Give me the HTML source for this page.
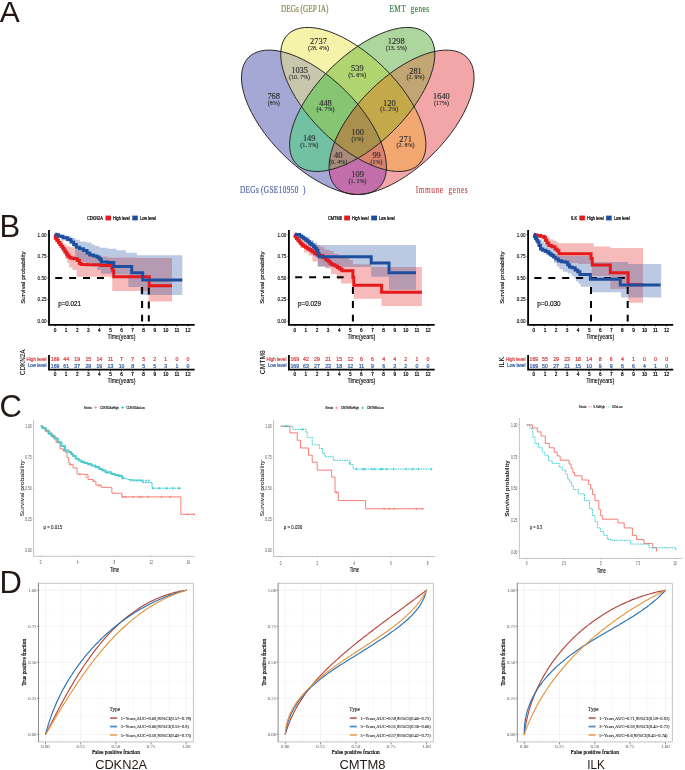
<!DOCTYPE html><html><head><meta charset="utf-8"><title>fig</title><style>html,body{margin:0;padding:0;background:#fff;width:685px;height:770px;overflow:hidden}svg{display:block;will-change:transform}</style></head><body>
<svg width="685" height="770" viewBox="0 0 685 770">
<rect width="685" height="770" fill="#fff"/>
<text x="-0.2" y="21.6" font-size="30" text-anchor="start" fill="#231815" font-family="&quot;Liberation Sans&quot;, sans-serif">A</text>
<text x="-0.6" y="237.1" font-size="31" text-anchor="start" fill="#231815" font-family="&quot;Liberation Sans&quot;, sans-serif">B</text>
<text x="-0.6" y="417" font-size="31" text-anchor="start" fill="#231815" font-family="&quot;Liberation Sans&quot;, sans-serif">C</text>
<text x="-0.6" y="593.3" font-size="31" text-anchor="start" fill="#231815" font-family="&quot;Liberation Sans&quot;, sans-serif">D</text>
<defs>
<clipPath id="cb"><ellipse cx="313.96" cy="122.31" rx="92.14" ry="44.6" transform="rotate(44.82 313.96 122.31)" /></clipPath>
<clipPath id="cr"><ellipse cx="401.56" cy="122.31" rx="92.14" ry="44.6" transform="rotate(-44.82 401.56 122.31)" /></clipPath>
<clipPath id="cy"><ellipse cx="353.3" cy="99.46" rx="92.27" ry="44.19" transform="rotate(44.65 353.3 99.46)" /></clipPath>
<clipPath id="cg"><ellipse cx="362.22" cy="99.46" rx="92.27" ry="44.19" transform="rotate(-44.65 362.22 99.46)" /></clipPath>
</defs>
<ellipse cx="313.96" cy="122.31" rx="92.14" ry="44.6" transform="rotate(44.82 313.96 122.31)" fill="#a5a7d5"/>
<ellipse cx="353.3" cy="99.46" rx="92.27" ry="44.19" transform="rotate(44.65 353.3 99.46)" fill="#f5f3a9"/>
<ellipse cx="362.22" cy="99.46" rx="92.27" ry="44.19" transform="rotate(-44.65 362.22 99.46)" fill="#acd69e"/>
<ellipse cx="401.56" cy="122.31" rx="92.14" ry="44.6" transform="rotate(-44.82 401.56 122.31)" fill="#f2a6a8"/>
<g clip-path="url(#cy)"><ellipse cx="313.96" cy="122.31" rx="92.14" ry="44.6" transform="rotate(44.82 313.96 122.31)" fill="#c8c7ad"/></g>
<g clip-path="url(#cg)"><ellipse cx="313.96" cy="122.31" rx="92.14" ry="44.6" transform="rotate(44.82 313.96 122.31)" fill="#72c1a5"/></g>
<g clip-path="url(#cr)"><ellipse cx="313.96" cy="122.31" rx="92.14" ry="44.6" transform="rotate(44.82 313.96 122.31)" fill="#c16eaa"/></g>
<g clip-path="url(#cg)"><ellipse cx="353.3" cy="99.46" rx="92.27" ry="44.19" transform="rotate(44.65 353.3 99.46)" fill="#b0d470"/></g>
<g clip-path="url(#cr)"><ellipse cx="353.3" cy="99.46" rx="92.27" ry="44.19" transform="rotate(44.65 353.3 99.46)" fill="#f3a872"/></g>
<g clip-path="url(#cr)"><ellipse cx="362.22" cy="99.46" rx="92.27" ry="44.19" transform="rotate(-44.65 362.22 99.46)" fill="#c1a673"/></g>
<g clip-path="url(#cg)"><g clip-path="url(#cy)"><ellipse cx="313.96" cy="122.31" rx="92.14" ry="44.6" transform="rotate(44.82 313.96 122.31)" fill="#86c673"/></g></g>
<g clip-path="url(#cr)"><g clip-path="url(#cy)"><ellipse cx="313.96" cy="122.31" rx="92.14" ry="44.6" transform="rotate(44.82 313.96 122.31)" fill="#d9836f"/></g></g>
<g clip-path="url(#cr)"><g clip-path="url(#cg)"><ellipse cx="313.96" cy="122.31" rx="92.14" ry="44.6" transform="rotate(44.82 313.96 122.31)" fill="#a98c7c"/></g></g>
<g clip-path="url(#cr)"><g clip-path="url(#cg)"><ellipse cx="353.3" cy="99.46" rx="92.27" ry="44.19" transform="rotate(44.65 353.3 99.46)" fill="#c4a94b"/></g></g>
<g clip-path="url(#cr)"><g clip-path="url(#cg)"><g clip-path="url(#cy)"><ellipse cx="313.96" cy="122.31" rx="92.14" ry="44.6" transform="rotate(44.82 313.96 122.31)" fill="#a9904c"/></g></g></g>
<ellipse cx="313.96" cy="122.31" rx="92.14" ry="44.6" transform="rotate(44.82 313.96 122.31)" fill="none" stroke="#222" stroke-width="0.9"/>
<ellipse cx="353.3" cy="99.46" rx="92.27" ry="44.19" transform="rotate(44.65 353.3 99.46)" fill="none" stroke="#222" stroke-width="0.9"/>
<ellipse cx="362.22" cy="99.46" rx="92.27" ry="44.19" transform="rotate(-44.65 362.22 99.46)" fill="none" stroke="#222" stroke-width="0.9"/>
<ellipse cx="401.56" cy="122.31" rx="92.14" ry="44.6" transform="rotate(-44.82 401.56 122.31)" fill="none" stroke="#222" stroke-width="0.9"/>
<text x="273.7" y="99.3" font-size="8.6" text-anchor="middle" fill="#2a2a2a" font-family="&quot;Liberation Serif&quot;, serif" textLength="12.6" lengthAdjust="spacingAndGlyphs" stroke="#2a2a2a" stroke-width="0.14">768</text>
<text x="273.7" y="104.8" font-size="6.2" text-anchor="middle" fill="#2a2a2a" font-family="&quot;Liberation Serif&quot;, serif" textLength="12" lengthAdjust="spacingAndGlyphs" stroke="#2a2a2a" stroke-width="0.12">(8%)</text>
<text x="318.5" y="44" font-size="8.6" text-anchor="middle" fill="#2a2a2a" font-family="&quot;Liberation Serif&quot;, serif" textLength="16.8" lengthAdjust="spacingAndGlyphs" stroke="#2a2a2a" stroke-width="0.14">2737</text>
<text x="318.5" y="49.5" font-size="6.2" text-anchor="middle" fill="#2a2a2a" font-family="&quot;Liberation Serif&quot;, serif" textLength="21" lengthAdjust="spacingAndGlyphs" stroke="#2a2a2a" stroke-width="0.12">(28. 4%)</text>
<text x="396.2" y="44.4" font-size="8.6" text-anchor="middle" fill="#2a2a2a" font-family="&quot;Liberation Serif&quot;, serif" textLength="16.8" lengthAdjust="spacingAndGlyphs" stroke="#2a2a2a" stroke-width="0.14">1298</text>
<text x="396.2" y="49.9" font-size="6.2" text-anchor="middle" fill="#2a2a2a" font-family="&quot;Liberation Serif&quot;, serif" textLength="21" lengthAdjust="spacingAndGlyphs" stroke="#2a2a2a" stroke-width="0.12">(13. 5%)</text>
<text x="441.4" y="99.3" font-size="8.6" text-anchor="middle" fill="#2a2a2a" font-family="&quot;Liberation Serif&quot;, serif" textLength="16.8" lengthAdjust="spacingAndGlyphs" stroke="#2a2a2a" stroke-width="0.14">1640</text>
<text x="441.4" y="104.8" font-size="6.2" text-anchor="middle" fill="#2a2a2a" font-family="&quot;Liberation Serif&quot;, serif" textLength="15" lengthAdjust="spacingAndGlyphs" stroke="#2a2a2a" stroke-width="0.12">(17%)</text>
<text x="299.6" y="73.3" font-size="8.6" text-anchor="middle" fill="#2a2a2a" font-family="&quot;Liberation Serif&quot;, serif" textLength="16.8" lengthAdjust="spacingAndGlyphs" stroke="#2a2a2a" stroke-width="0.14">1035</text>
<text x="299.6" y="78.8" font-size="6.2" text-anchor="middle" fill="#2a2a2a" font-family="&quot;Liberation Serif&quot;, serif" textLength="21" lengthAdjust="spacingAndGlyphs" stroke="#2a2a2a" stroke-width="0.12">(10. 7%)</text>
<text x="357.3" y="71.2" font-size="8.6" text-anchor="middle" fill="#2a2a2a" font-family="&quot;Liberation Serif&quot;, serif" textLength="12.6" lengthAdjust="spacingAndGlyphs" stroke="#2a2a2a" stroke-width="0.14">539</text>
<text x="357.3" y="76.7" font-size="6.2" text-anchor="middle" fill="#2a2a2a" font-family="&quot;Liberation Serif&quot;, serif" textLength="18" lengthAdjust="spacingAndGlyphs" stroke="#2a2a2a" stroke-width="0.12">(5. 6%)</text>
<text x="415.5" y="73.8" font-size="8.6" text-anchor="middle" fill="#2a2a2a" font-family="&quot;Liberation Serif&quot;, serif" textLength="12.6" lengthAdjust="spacingAndGlyphs" stroke="#2a2a2a" stroke-width="0.14">281</text>
<text x="415.5" y="79.3" font-size="6.2" text-anchor="middle" fill="#2a2a2a" font-family="&quot;Liberation Serif&quot;, serif" textLength="18" lengthAdjust="spacingAndGlyphs" stroke="#2a2a2a" stroke-width="0.12">(2. 9%)</text>
<text x="325.5" y="105.7" font-size="8.6" text-anchor="middle" fill="#2a2a2a" font-family="&quot;Liberation Serif&quot;, serif" textLength="12.6" lengthAdjust="spacingAndGlyphs" stroke="#2a2a2a" stroke-width="0.14">448</text>
<text x="325.5" y="111.2" font-size="6.2" text-anchor="middle" fill="#2a2a2a" font-family="&quot;Liberation Serif&quot;, serif" textLength="18" lengthAdjust="spacingAndGlyphs" stroke="#2a2a2a" stroke-width="0.12">(4. 7%)</text>
<text x="389.3" y="105.9" font-size="8.6" text-anchor="middle" fill="#2a2a2a" font-family="&quot;Liberation Serif&quot;, serif" textLength="12.6" lengthAdjust="spacingAndGlyphs" stroke="#2a2a2a" stroke-width="0.14">120</text>
<text x="389.3" y="111.4" font-size="6.2" text-anchor="middle" fill="#2a2a2a" font-family="&quot;Liberation Serif&quot;, serif" textLength="18" lengthAdjust="spacingAndGlyphs" stroke="#2a2a2a" stroke-width="0.12">(1. 2%)</text>
<text x="309.2" y="141.3" font-size="8.6" text-anchor="middle" fill="#2a2a2a" font-family="&quot;Liberation Serif&quot;, serif" textLength="12.6" lengthAdjust="spacingAndGlyphs" stroke="#2a2a2a" stroke-width="0.14">149</text>
<text x="309.2" y="146.8" font-size="6.2" text-anchor="middle" fill="#2a2a2a" font-family="&quot;Liberation Serif&quot;, serif" textLength="18" lengthAdjust="spacingAndGlyphs" stroke="#2a2a2a" stroke-width="0.12">(1. 5%)</text>
<text x="357.6" y="135.1" font-size="8.6" text-anchor="middle" fill="#2a2a2a" font-family="&quot;Liberation Serif&quot;, serif" textLength="12.6" lengthAdjust="spacingAndGlyphs" stroke="#2a2a2a" stroke-width="0.14">100</text>
<text x="357.6" y="140.6" font-size="6.2" text-anchor="middle" fill="#2a2a2a" font-family="&quot;Liberation Serif&quot;, serif" textLength="12" lengthAdjust="spacingAndGlyphs" stroke="#2a2a2a" stroke-width="0.12">(1%)</text>
<text x="405.6" y="141.7" font-size="8.6" text-anchor="middle" fill="#2a2a2a" font-family="&quot;Liberation Serif&quot;, serif" textLength="12.6" lengthAdjust="spacingAndGlyphs" stroke="#2a2a2a" stroke-width="0.14">271</text>
<text x="405.6" y="147.2" font-size="6.2" text-anchor="middle" fill="#2a2a2a" font-family="&quot;Liberation Serif&quot;, serif" textLength="18" lengthAdjust="spacingAndGlyphs" stroke="#2a2a2a" stroke-width="0.12">(2. 8%)</text>
<text x="338.2" y="158.2" font-size="8.6" text-anchor="middle" fill="#2a2a2a" font-family="&quot;Liberation Serif&quot;, serif" textLength="8.4" lengthAdjust="spacingAndGlyphs" stroke="#2a2a2a" stroke-width="0.14">40</text>
<text x="338.2" y="163.7" font-size="6.2" text-anchor="middle" fill="#2a2a2a" font-family="&quot;Liberation Serif&quot;, serif" textLength="18" lengthAdjust="spacingAndGlyphs" stroke="#2a2a2a" stroke-width="0.12">(0. 4%)</text>
<text x="376.6" y="158.2" font-size="8.6" text-anchor="middle" fill="#2a2a2a" font-family="&quot;Liberation Serif&quot;, serif" textLength="8.4" lengthAdjust="spacingAndGlyphs" stroke="#2a2a2a" stroke-width="0.14">99</text>
<text x="376.6" y="163.7" font-size="6.2" text-anchor="middle" fill="#2a2a2a" font-family="&quot;Liberation Serif&quot;, serif" textLength="12" lengthAdjust="spacingAndGlyphs" stroke="#2a2a2a" stroke-width="0.12">(1%)</text>
<text x="357.6" y="177" font-size="8.6" text-anchor="middle" fill="#2a2a2a" font-family="&quot;Liberation Serif&quot;, serif" textLength="12.6" lengthAdjust="spacingAndGlyphs" stroke="#2a2a2a" stroke-width="0.14">109</text>
<text x="357.6" y="182.5" font-size="6.2" text-anchor="middle" fill="#2a2a2a" font-family="&quot;Liberation Serif&quot;, serif" textLength="18" lengthAdjust="spacingAndGlyphs" stroke="#2a2a2a" stroke-width="0.12">(1. 1%)</text>
<text transform="translate(304.8 12.3) scale(0.78 1)" x="0" y="0" font-size="9.3" text-anchor="middle" fill="#8c8a4f" stroke="#8c8a4f" stroke-width="0.22" font-family="&quot;Liberation Serif&quot;, serif" textLength="60.9" lengthAdjust="spacing">DEGs&#8201;(GEP&#8201;IA)</text>
<text transform="translate(409.2 12.3) scale(0.78 1)" x="0" y="0" font-size="9.3" text-anchor="middle" fill="#3b8a4c" stroke="#3b8a4c" stroke-width="0.22" font-family="&quot;Liberation Serif&quot;, serif" textLength="50.77" lengthAdjust="spacing">EMT&#160;&#160;genes</text>
<text transform="translate(272.7 193.1) scale(0.78 1)" x="0" y="0" font-size="9.3" text-anchor="middle" fill="#5464a8" stroke="#5464a8" stroke-width="0.2" font-family="&quot;Liberation Serif&quot;, serif" textLength="84.1" lengthAdjust="spacing">DEGs&#8201;(GSE10950&#160;&#160;)</text>
<text transform="translate(441.7 193.2) scale(0.78 1)" x="0" y="0" font-size="9.3" text-anchor="middle" fill="#d04a4a" stroke="#d04a4a" stroke-width="0.15" font-family="&quot;Liberation Serif&quot;, serif" textLength="66.54" lengthAdjust="spacing">Immune&#160;&#160;genes</text>
<polygon points="54.7,234.8 56.35,234.8 56.35,237 58,237 59.85,237 59.85,240.5 61.7,240.5 63.15,240.5 63.15,244 64.6,244 66.3,244 66.3,246.5 68,246.5 70.7,246.5 70.7,247.3 73.4,247.3 74.4,247.3 74.4,249.2 75.4,249.2 77.7,249.2 77.7,251 80,251 82,251 82,252.2 84,252.2 86.35,252.2 86.35,253.3 88.7,253.3 91.85,253.3 91.85,255 95,255 98,255 98,256.4 101,256.4 107.1,256.4 107.1,257.4 113.2,257.4 125,257.4 136.8,257.4 136.8,257.9 148.6,257.9 172,257.9 172,301.4 148.6,301.4 148.6,291.1 125,291.1 113.2,291.1 112.2,291.1 112.2,276.8 111.2,276.8 78.5,276.8 76.75,276.8 76.75,270 75,270 72.5,270 72.5,267.6 70,267.6 69.15,267.6 69.15,263 68.3,263 67.15,263 67.15,259 66,259 65,259 65,254 64,254 63,254 63,249.5 62,249.5 61,249.5 61,245.5 60,245.5 59,245.5 59,241.5 58,241.5 57,241.5 57,238 56,238 55.35,238 55.35,234.8 54.7,234.8" fill="#e41a1c" fill-opacity="0.3" stroke="none"/>
<polygon points="55,234 57.5,234 57.5,234.8 60,234.8 62.3,234.8 62.3,235.6 64.6,235.6 66.95,235.6 66.95,236.2 69.3,236.2 71.35,236.2 71.35,237.9 73.4,237.9 75.4,237.9 75.4,239.7 77.4,239.7 80.05,239.7 80.05,241.4 82.7,241.4 86.35,241.4 86.35,242.6 90,242.6 91.5,242.6 91.5,244.5 93,244.5 94.95,244.5 94.95,246.1 96.9,246.1 99.45,246.1 99.45,247.7 102,247.7 107.6,247.7 107.6,248.7 113.2,248.7 116.6,248.7 116.6,250.2 120,250.2 125.85,250.2 125.85,252.7 131.7,252.7 136.85,252.7 136.85,255.3 142,255.3 182.3,255.3 182.3,294.9 148.6,294.9 140.15,294.9 140.15,287 131.7,287 128.35,287 128.35,274.5 125,274.5 113.5,274.5 113.5,273.7 102,273.7 101,273.7 101,270 100,270 97,270 97,266.5 94,266.5 91.35,266.5 91.35,263.5 88.7,263.5 85.85,263.5 85.85,262 83,262 80.75,262 80.75,260.4 78.5,260.4 76.95,260.4 76.95,258 75.4,258 75.2,258 75.2,247.5 75,247.5 73.5,247.5 73.5,243.5 72,243.5 70,243.5 70,241.2 68,241.2 66.3,241.2 66.3,240.5 64.6,240.5 62.8,240.5 62.8,238 61,238 59.5,238 59.5,236 58,236 56.5,236 56.5,234 55,234" fill="#1f4e9e" fill-opacity="0.3" stroke="none"/>
<polyline points="55.25,277.9 111,277.9" fill="none" stroke="#000" stroke-width="2" stroke-dasharray="7,6.9"/>
<polyline points="142.1,287 142.1,321.5" fill="none" stroke="#000" stroke-width="2" stroke-dasharray="7,6.9"/>
<polyline points="148.8,287.5 148.8,321.5" fill="none" stroke="#000" stroke-width="2" stroke-dasharray="7,6.9"/>
<polyline points="54.7,234.8 55.35,234.8 55.35,238.3 56,238.3 56.8,238.3 56.8,240.4 57.6,240.4 58.4,240.4 58.4,242.5 59.2,242.5 59.85,242.5 59.85,244.4 60.5,244.4 61.15,244.4 61.15,246.2 61.8,246.2 62.5,246.2 62.5,248 63.2,248 63.85,248 63.85,249.9 64.5,249.9 65.15,249.9 65.15,252 65.8,252 66.45,252 66.45,254.1 67.1,254.1 67.75,254.1 67.75,255.7 68.4,255.7 69.05,255.7 69.05,257.2 69.7,257.2 71,257.2 71,258.3 72.3,258.3 74.15,258.3 74.15,258.8 76,258.8 77.3,258.8 77.3,260.4 78.6,260.4 79.4,260.4 79.4,263.5 80.2,263.5 81.25,263.5 81.25,264.6 82.3,264.6 86.65,264.6 86.65,264.8 91,264.8 101.1,264.8 101.1,265.5 111.2,265.5 111.7,265.5 111.7,268 112.2,268 112.7,268 112.7,270.7 113.2,270.7 113.75,270.7 113.75,276.8 114.3,276.8 149.2,276.8 149.2,285.8 172,285.8" fill="none" stroke="#e41a1c" stroke-width="3" stroke-linejoin="miter"/>
<polyline points="55.2,234.2 56.1,234.2 56.1,234.8 57,234.8 58.65,234.8 58.65,236.2 60.3,236.2 62.9,236.2 62.9,237.8 65.5,237.8 67.6,237.8 67.6,239.4 69.7,239.4 71,239.4 71,242 72.3,242 73.65,242 73.65,244.6 75,244.6 76.3,244.6 76.3,247.2 77.6,247.2 79.45,247.2 79.45,248.8 81.3,248.8 83.4,248.8 83.4,250.4 85.5,250.4 87.05,250.4 87.05,253 88.6,253 89.8,253 89.8,255.1 91,255.1 93.45,255.1 93.45,255.9 95.9,255.9 96.95,255.9 96.95,257 98,257 99,257 99,258.4 100,258.4 100.5,258.4 100.5,260 101,260 101.5,260 101.5,262 102,262 107.6,262 107.6,262.5 113.2,262.5 113.75,262.5 113.75,266.4 114.3,266.4 131.7,266.4 131.7,272.8 142.7,272.8 142.7,280 182.3,280" fill="none" stroke="#1f4e9e" stroke-width="3" stroke-linejoin="miter"/>
<path d="M49,230.1V324.8H194.58" fill="none" stroke="#000" stroke-width="1.8"/>
<path d="M47.4,321.2H48.7" stroke="#000" stroke-width="0.5"/>
<text x="46.5" y="322.9" font-size="4.9" text-anchor="end" fill="#000" font-family="&quot;Liberation Sans&quot;, sans-serif" textLength="8.9" lengthAdjust="spacingAndGlyphs" stroke="#000" stroke-width="0.1">0.00</text>
<path d="M47.4,299.6H48.7" stroke="#000" stroke-width="0.5"/>
<text x="46.5" y="301.3" font-size="4.9" text-anchor="end" fill="#000" font-family="&quot;Liberation Sans&quot;, sans-serif" textLength="8.9" lengthAdjust="spacingAndGlyphs" stroke="#000" stroke-width="0.1">0.25</text>
<path d="M47.4,278H48.7" stroke="#000" stroke-width="0.5"/>
<text x="46.5" y="279.7" font-size="4.9" text-anchor="end" fill="#000" font-family="&quot;Liberation Sans&quot;, sans-serif" textLength="8.9" lengthAdjust="spacingAndGlyphs" stroke="#000" stroke-width="0.1">0.50</text>
<path d="M47.4,256.4H48.7" stroke="#000" stroke-width="0.5"/>
<text x="46.5" y="258.1" font-size="4.9" text-anchor="end" fill="#000" font-family="&quot;Liberation Sans&quot;, sans-serif" textLength="8.9" lengthAdjust="spacingAndGlyphs" stroke="#000" stroke-width="0.1">0.75</text>
<path d="M47.4,234.8H48.7" stroke="#000" stroke-width="0.5"/>
<text x="46.5" y="236.5" font-size="4.9" text-anchor="end" fill="#000" font-family="&quot;Liberation Sans&quot;, sans-serif" textLength="8.9" lengthAdjust="spacingAndGlyphs" stroke="#000" stroke-width="0.1">1.00</text>
<path d="M55.1,324.8V326.5" stroke="#000" stroke-width="0.7"/>
<text x="55.1" y="331.9" font-size="4.7" text-anchor="middle" fill="#000" font-family="&quot;Liberation Sans&quot;, sans-serif" stroke="#000" stroke-width="0.2">0</text>
<path d="M55.1,369.7V371.4" stroke="#000" stroke-width="0.7"/>
<text x="55.1" y="376" font-size="4.7" text-anchor="middle" fill="#000" font-family="&quot;Liberation Sans&quot;, sans-serif" stroke="#000" stroke-width="0.2">0</text>
<path d="M66.17,324.8V326.5" stroke="#000" stroke-width="0.7"/>
<text x="66.17" y="331.9" font-size="4.7" text-anchor="middle" fill="#000" font-family="&quot;Liberation Sans&quot;, sans-serif" stroke="#000" stroke-width="0.2">1</text>
<path d="M66.17,369.7V371.4" stroke="#000" stroke-width="0.7"/>
<text x="66.17" y="376" font-size="4.7" text-anchor="middle" fill="#000" font-family="&quot;Liberation Sans&quot;, sans-serif" stroke="#000" stroke-width="0.2">1</text>
<path d="M77.24,324.8V326.5" stroke="#000" stroke-width="0.7"/>
<text x="77.24" y="331.9" font-size="4.7" text-anchor="middle" fill="#000" font-family="&quot;Liberation Sans&quot;, sans-serif" stroke="#000" stroke-width="0.2">2</text>
<path d="M77.24,369.7V371.4" stroke="#000" stroke-width="0.7"/>
<text x="77.24" y="376" font-size="4.7" text-anchor="middle" fill="#000" font-family="&quot;Liberation Sans&quot;, sans-serif" stroke="#000" stroke-width="0.2">2</text>
<path d="M88.31,324.8V326.5" stroke="#000" stroke-width="0.7"/>
<text x="88.31" y="331.9" font-size="4.7" text-anchor="middle" fill="#000" font-family="&quot;Liberation Sans&quot;, sans-serif" stroke="#000" stroke-width="0.2">3</text>
<path d="M88.31,369.7V371.4" stroke="#000" stroke-width="0.7"/>
<text x="88.31" y="376" font-size="4.7" text-anchor="middle" fill="#000" font-family="&quot;Liberation Sans&quot;, sans-serif" stroke="#000" stroke-width="0.2">3</text>
<path d="M99.38,324.8V326.5" stroke="#000" stroke-width="0.7"/>
<text x="99.38" y="331.9" font-size="4.7" text-anchor="middle" fill="#000" font-family="&quot;Liberation Sans&quot;, sans-serif" stroke="#000" stroke-width="0.2">4</text>
<path d="M99.38,369.7V371.4" stroke="#000" stroke-width="0.7"/>
<text x="99.38" y="376" font-size="4.7" text-anchor="middle" fill="#000" font-family="&quot;Liberation Sans&quot;, sans-serif" stroke="#000" stroke-width="0.2">4</text>
<path d="M110.45,324.8V326.5" stroke="#000" stroke-width="0.7"/>
<text x="110.45" y="331.9" font-size="4.7" text-anchor="middle" fill="#000" font-family="&quot;Liberation Sans&quot;, sans-serif" stroke="#000" stroke-width="0.2">5</text>
<path d="M110.45,369.7V371.4" stroke="#000" stroke-width="0.7"/>
<text x="110.45" y="376" font-size="4.7" text-anchor="middle" fill="#000" font-family="&quot;Liberation Sans&quot;, sans-serif" stroke="#000" stroke-width="0.2">5</text>
<path d="M121.52,324.8V326.5" stroke="#000" stroke-width="0.7"/>
<text x="121.52" y="331.9" font-size="4.7" text-anchor="middle" fill="#000" font-family="&quot;Liberation Sans&quot;, sans-serif" stroke="#000" stroke-width="0.2">6</text>
<path d="M121.52,369.7V371.4" stroke="#000" stroke-width="0.7"/>
<text x="121.52" y="376" font-size="4.7" text-anchor="middle" fill="#000" font-family="&quot;Liberation Sans&quot;, sans-serif" stroke="#000" stroke-width="0.2">6</text>
<path d="M132.59,324.8V326.5" stroke="#000" stroke-width="0.7"/>
<text x="132.59" y="331.9" font-size="4.7" text-anchor="middle" fill="#000" font-family="&quot;Liberation Sans&quot;, sans-serif" stroke="#000" stroke-width="0.2">7</text>
<path d="M132.59,369.7V371.4" stroke="#000" stroke-width="0.7"/>
<text x="132.59" y="376" font-size="4.7" text-anchor="middle" fill="#000" font-family="&quot;Liberation Sans&quot;, sans-serif" stroke="#000" stroke-width="0.2">7</text>
<path d="M143.66,324.8V326.5" stroke="#000" stroke-width="0.7"/>
<text x="143.66" y="331.9" font-size="4.7" text-anchor="middle" fill="#000" font-family="&quot;Liberation Sans&quot;, sans-serif" stroke="#000" stroke-width="0.2">8</text>
<path d="M143.66,369.7V371.4" stroke="#000" stroke-width="0.7"/>
<text x="143.66" y="376" font-size="4.7" text-anchor="middle" fill="#000" font-family="&quot;Liberation Sans&quot;, sans-serif" stroke="#000" stroke-width="0.2">8</text>
<path d="M154.73,324.8V326.5" stroke="#000" stroke-width="0.7"/>
<text x="154.73" y="331.9" font-size="4.7" text-anchor="middle" fill="#000" font-family="&quot;Liberation Sans&quot;, sans-serif" stroke="#000" stroke-width="0.2">9</text>
<path d="M154.73,369.7V371.4" stroke="#000" stroke-width="0.7"/>
<text x="154.73" y="376" font-size="4.7" text-anchor="middle" fill="#000" font-family="&quot;Liberation Sans&quot;, sans-serif" stroke="#000" stroke-width="0.2">9</text>
<path d="M165.8,324.8V326.5" stroke="#000" stroke-width="0.7"/>
<text x="165.8" y="331.9" font-size="4.7" text-anchor="middle" fill="#000" font-family="&quot;Liberation Sans&quot;, sans-serif" stroke="#000" stroke-width="0.2">10</text>
<path d="M165.8,369.7V371.4" stroke="#000" stroke-width="0.7"/>
<text x="165.8" y="376" font-size="4.7" text-anchor="middle" fill="#000" font-family="&quot;Liberation Sans&quot;, sans-serif" stroke="#000" stroke-width="0.2">10</text>
<path d="M176.87,324.8V326.5" stroke="#000" stroke-width="0.7"/>
<text x="176.87" y="331.9" font-size="4.7" text-anchor="middle" fill="#000" font-family="&quot;Liberation Sans&quot;, sans-serif" stroke="#000" stroke-width="0.2">11</text>
<path d="M176.87,369.7V371.4" stroke="#000" stroke-width="0.7"/>
<text x="176.87" y="376" font-size="4.7" text-anchor="middle" fill="#000" font-family="&quot;Liberation Sans&quot;, sans-serif" stroke="#000" stroke-width="0.2">11</text>
<path d="M187.94,324.8V326.5" stroke="#000" stroke-width="0.7"/>
<text x="187.94" y="331.9" font-size="4.7" text-anchor="middle" fill="#000" font-family="&quot;Liberation Sans&quot;, sans-serif" stroke="#000" stroke-width="0.2">12</text>
<path d="M187.94,369.7V371.4" stroke="#000" stroke-width="0.7"/>
<text x="187.94" y="376" font-size="4.7" text-anchor="middle" fill="#000" font-family="&quot;Liberation Sans&quot;, sans-serif" stroke="#000" stroke-width="0.2">12</text>
<text x="121.52" y="338.7" font-size="6.6" text-anchor="middle" fill="#000" font-family="&quot;Liberation Sans&quot;, sans-serif" textLength="28" lengthAdjust="spacingAndGlyphs" stroke="#000" stroke-width="0.1">Time(years)</text>
<text x="121.52" y="382.6" font-size="6.6" text-anchor="middle" fill="#000" font-family="&quot;Liberation Sans&quot;, sans-serif" textLength="28" lengthAdjust="spacingAndGlyphs" stroke="#000" stroke-width="0.1">Time(years)</text>
<text x="24.6" y="277.6" font-size="6.2" text-anchor="middle" fill="#000" font-family="&quot;Liberation Sans&quot;, sans-serif" textLength="52.5" lengthAdjust="spacingAndGlyphs" transform="rotate(-90 24.6 277.6)" stroke="#000" stroke-width="0.12">Survival probability</text>
<text x="58.2" y="305.8" font-size="7.2" text-anchor="start" fill="#000" font-family="&quot;Liberation Sans&quot;, sans-serif" textLength="22.8" lengthAdjust="spacingAndGlyphs" stroke="#000" stroke-width="0.16">p=0.021</text>
<text x="87" y="220.1" font-size="4.6" text-anchor="start" fill="#000" font-family="&quot;Liberation Sans&quot;, sans-serif" textLength="15.8" lengthAdjust="spacingAndGlyphs" stroke="#000" stroke-width="0.2">CDKN2A</text>
<rect x="105.5" y="215.6" width="5.5" height="4.8" fill="#e41a1c"/>
<text x="113" y="220.1" font-size="4.6" text-anchor="start" fill="#000" font-family="&quot;Liberation Sans&quot;, sans-serif" textLength="16.6" lengthAdjust="spacingAndGlyphs" stroke="#000" stroke-width="0.2">High level</text>
<rect x="132.3" y="215.6" width="5.5" height="4.8" fill="#1f4e9e"/>
<text x="140.1" y="220.1" font-size="4.6" text-anchor="start" fill="#000" font-family="&quot;Liberation Sans&quot;, sans-serif" textLength="15.8" lengthAdjust="spacingAndGlyphs" stroke="#000" stroke-width="0.2">Low level</text>
<path d="M49,355V369.7H194.58" fill="none" stroke="#000" stroke-width="1.8"/>
<text x="46.5" y="360.5" font-size="5.4" text-anchor="end" fill="#d93a3a" font-family="&quot;Liberation Sans&quot;, sans-serif" textLength="19.9" lengthAdjust="spacingAndGlyphs" stroke="#d93a3a" stroke-width="0.2">High level</text>
<text x="46.5" y="367.2" font-size="5.4" text-anchor="end" fill="#2f58a3" font-family="&quot;Liberation Sans&quot;, sans-serif" textLength="18.6" lengthAdjust="spacingAndGlyphs" stroke="#2f58a3" stroke-width="0.2">Low level</text>
<text x="55.1" y="360.9" font-size="5.2" text-anchor="middle" fill="#d93a3a" font-family="&quot;Liberation Sans&quot;, sans-serif" stroke="#d93a3a" stroke-width="0.2">169</text>
<text x="55.1" y="367.5" font-size="5.2" text-anchor="middle" fill="#2f58a3" font-family="&quot;Liberation Sans&quot;, sans-serif" stroke="#2f58a3" stroke-width="0.2">169</text>
<text x="66.17" y="360.9" font-size="5.2" text-anchor="middle" fill="#d93a3a" font-family="&quot;Liberation Sans&quot;, sans-serif" stroke="#d93a3a" stroke-width="0.2">44</text>
<text x="66.17" y="367.5" font-size="5.2" text-anchor="middle" fill="#2f58a3" font-family="&quot;Liberation Sans&quot;, sans-serif" stroke="#2f58a3" stroke-width="0.2">61</text>
<text x="77.24" y="360.9" font-size="5.2" text-anchor="middle" fill="#d93a3a" font-family="&quot;Liberation Sans&quot;, sans-serif" stroke="#d93a3a" stroke-width="0.2">19</text>
<text x="77.24" y="367.5" font-size="5.2" text-anchor="middle" fill="#2f58a3" font-family="&quot;Liberation Sans&quot;, sans-serif" stroke="#2f58a3" stroke-width="0.2">37</text>
<text x="88.31" y="360.9" font-size="5.2" text-anchor="middle" fill="#d93a3a" font-family="&quot;Liberation Sans&quot;, sans-serif" stroke="#d93a3a" stroke-width="0.2">15</text>
<text x="88.31" y="367.5" font-size="5.2" text-anchor="middle" fill="#2f58a3" font-family="&quot;Liberation Sans&quot;, sans-serif" stroke="#2f58a3" stroke-width="0.2">29</text>
<text x="99.38" y="360.9" font-size="5.2" text-anchor="middle" fill="#d93a3a" font-family="&quot;Liberation Sans&quot;, sans-serif" stroke="#d93a3a" stroke-width="0.2">14</text>
<text x="99.38" y="367.5" font-size="5.2" text-anchor="middle" fill="#2f58a3" font-family="&quot;Liberation Sans&quot;, sans-serif" stroke="#2f58a3" stroke-width="0.2">19</text>
<text x="110.45" y="360.9" font-size="5.2" text-anchor="middle" fill="#d93a3a" font-family="&quot;Liberation Sans&quot;, sans-serif" stroke="#d93a3a" stroke-width="0.2">11</text>
<text x="110.45" y="367.5" font-size="5.2" text-anchor="middle" fill="#2f58a3" font-family="&quot;Liberation Sans&quot;, sans-serif" stroke="#2f58a3" stroke-width="0.2">13</text>
<text x="121.52" y="360.9" font-size="5.2" text-anchor="middle" fill="#d93a3a" font-family="&quot;Liberation Sans&quot;, sans-serif" stroke="#d93a3a" stroke-width="0.2">7</text>
<text x="121.52" y="367.5" font-size="5.2" text-anchor="middle" fill="#2f58a3" font-family="&quot;Liberation Sans&quot;, sans-serif" stroke="#2f58a3" stroke-width="0.2">10</text>
<text x="132.59" y="360.9" font-size="5.2" text-anchor="middle" fill="#d93a3a" font-family="&quot;Liberation Sans&quot;, sans-serif" stroke="#d93a3a" stroke-width="0.2">7</text>
<text x="132.59" y="367.5" font-size="5.2" text-anchor="middle" fill="#2f58a3" font-family="&quot;Liberation Sans&quot;, sans-serif" stroke="#2f58a3" stroke-width="0.2">8</text>
<text x="143.66" y="360.9" font-size="5.2" text-anchor="middle" fill="#d93a3a" font-family="&quot;Liberation Sans&quot;, sans-serif" stroke="#d93a3a" stroke-width="0.2">5</text>
<text x="143.66" y="367.5" font-size="5.2" text-anchor="middle" fill="#2f58a3" font-family="&quot;Liberation Sans&quot;, sans-serif" stroke="#2f58a3" stroke-width="0.2">5</text>
<text x="154.73" y="360.9" font-size="5.2" text-anchor="middle" fill="#d93a3a" font-family="&quot;Liberation Sans&quot;, sans-serif" stroke="#d93a3a" stroke-width="0.2">2</text>
<text x="154.73" y="367.5" font-size="5.2" text-anchor="middle" fill="#2f58a3" font-family="&quot;Liberation Sans&quot;, sans-serif" stroke="#2f58a3" stroke-width="0.2">5</text>
<text x="165.8" y="360.9" font-size="5.2" text-anchor="middle" fill="#d93a3a" font-family="&quot;Liberation Sans&quot;, sans-serif" stroke="#d93a3a" stroke-width="0.2">1</text>
<text x="165.8" y="367.5" font-size="5.2" text-anchor="middle" fill="#2f58a3" font-family="&quot;Liberation Sans&quot;, sans-serif" stroke="#2f58a3" stroke-width="0.2">3</text>
<text x="176.87" y="360.9" font-size="5.2" text-anchor="middle" fill="#d93a3a" font-family="&quot;Liberation Sans&quot;, sans-serif" stroke="#d93a3a" stroke-width="0.2">0</text>
<text x="176.87" y="367.5" font-size="5.2" text-anchor="middle" fill="#2f58a3" font-family="&quot;Liberation Sans&quot;, sans-serif" stroke="#2f58a3" stroke-width="0.2">1</text>
<text x="187.94" y="360.9" font-size="5.2" text-anchor="middle" fill="#d93a3a" font-family="&quot;Liberation Sans&quot;, sans-serif" stroke="#d93a3a" stroke-width="0.2">0</text>
<text x="187.94" y="367.5" font-size="5.2" text-anchor="middle" fill="#2f58a3" font-family="&quot;Liberation Sans&quot;, sans-serif" stroke="#2f58a3" stroke-width="0.2">0</text>
<text x="24.7" y="362.2" font-size="7.0" text-anchor="middle" fill="#000" font-family="&quot;Liberation Sans&quot;, sans-serif" textLength="25.5" lengthAdjust="spacingAndGlyphs" transform="rotate(-90 24.7 362.2)" stroke="#000" stroke-width="0.04">CDKN2A</text>
<polygon points="294.4,234.8 296.2,234.8 296.2,236.5 298,236.5 300,236.5 300,239 302,239 304,239 304,241.5 306,241.5 308,241.5 308,243.5 310,243.5 312,243.5 312,244.5 314,244.5 316.4,244.5 316.4,245 318.8,245 320.1,245 320.1,246.8 321.4,246.8 324.45,246.8 324.45,249.4 327.5,249.4 329.25,249.4 329.25,251.1 331,251.1 333.65,251.1 333.65,253.8 336.3,253.8 338.45,253.8 338.45,256 340.6,256 343.3,256 343.3,258 346,258 349,258 349,259.9 352,259.9 352.9,259.9 352.9,264.3 353.8,264.3 371.2,264.3 371.2,267 421.9,267 421.9,305.9 381.6,305.9 381.6,298.8 353.8,298.8 353.8,283.5 341.5,283.5 341.05,283.5 341.05,279.2 340.6,279.2 336.7,279.2 336.7,273.9 332.8,273.9 331.05,273.9 331.05,268.6 329.3,268.6 325.15,268.6 325.15,266 321,266 317.7,266 317.7,261.6 314.4,261.6 312.4,261.6 312.4,255.4 310.4,255.4 308.4,255.4 308.4,252.5 306.4,252.5 304.05,252.5 304.05,247.9 301.7,247.9 300.35,247.9 300.35,242 299,242 298,242 298,238 297,238 295.7,238 295.7,234.8 294.4,234.8" fill="#e41a1c" fill-opacity="0.3" stroke="none"/>
<polygon points="295,234.2 296.5,234.2 296.5,234.8 298,234.8 299.85,234.8 299.85,235.6 301.7,235.6 304.6,235.6 304.6,237.3 307.5,237.3 309.85,237.3 309.85,240.3 312.2,240.3 313.95,240.3 313.95,242.6 315.7,242.6 317.25,242.6 317.25,245 318.8,245 416,245 416,289.7 389,289.7 389,276.7 371.2,276.7 371.2,267 318.8,267 317.9,267 317.9,254 317,254 315.5,254 315.5,250 314,250 312,250 312,246 310,246 308,246 308,242 306,242 304,242 304,239 302,239 300,239 300,236 298,236 296.5,236 296.5,234.2 295,234.2" fill="#1f4e9e" fill-opacity="0.3" stroke="none"/>
<polyline points="295.2,277.3 343.7,277.3" fill="none" stroke="#000" stroke-width="2" stroke-dasharray="7,6.9"/>
<polyline points="352.9,287 352.9,321.5" fill="none" stroke="#000" stroke-width="2" stroke-dasharray="7,6.9"/>
<polyline points="294.4,234.8 295.05,234.8 295.05,236.6 295.7,236.6 296.35,236.6 296.35,238.5 297,238.5 297.75,238.5 297.75,240.2 298.5,240.2 299.2,240.2 299.2,242 299.9,242 300.6,242 300.6,243.5 301.3,243.5 302.05,243.5 302.05,245 302.8,245 303.7,245 303.7,246.2 304.6,246.2 305.5,246.2 305.5,247.3 306.4,247.3 307.25,247.3 307.25,248.5 308.1,248.5 309,248.5 309,249.6 309.9,249.6 310.75,249.6 310.75,250.8 311.6,250.8 312.5,250.8 312.5,252 313.4,252 314.55,252 314.55,253.7 315.7,253.7 316.85,253.7 316.85,254.9 318,254.9 319.7,254.9 319.7,255.5 321.4,255.5 322.95,255.5 322.95,257.7 324.5,257.7 326,257.7 326,259.9 327.5,259.9 328.35,259.9 328.35,261.6 329.2,261.6 330.1,261.6 330.1,263.4 331,263.4 332.25,263.4 332.25,264.7 333.5,264.7 334.9,264.7 334.9,266 336.3,266 337.4,266 337.4,267.5 338.5,267.5 339.55,267.5 339.55,269.1 340.6,269.1 341.95,269.1 341.95,270.8 343.3,270.8 352,270.8 352.9,270.8 352.9,277.4 353.8,277.4 353.8,285.3 381.6,285.3 381.6,292.3 421.9,292.3" fill="none" stroke="#e41a1c" stroke-width="3" stroke-linejoin="miter"/>
<polyline points="295,234.2 295.95,234.2 295.95,234.4 296.9,234.4 297.85,234.4 297.85,234.6 298.8,234.6 299.8,234.6 299.8,236 300.8,236 301.8,236 301.8,237.3 302.8,237.3 303.8,237.3 303.8,238.8 304.8,238.8 305.85,238.8 305.85,240.3 306.9,240.3 307.75,240.3 307.75,241.7 308.6,241.7 309.5,241.7 309.5,243.2 310.4,243.2 311.4,243.2 311.4,245 312.4,245 313.45,245 313.45,246.7 314.5,246.7 315.25,246.7 315.25,248.5 316,248.5 316.7,248.5 316.7,250.2 317.4,250.2 318,250.2 318,253.7 318.6,253.7 319.05,253.7 319.05,256.8 319.5,256.8 371.2,256.8 371.2,263.1 389,263.1 389,272.8 416,272.8" fill="none" stroke="#1f4e9e" stroke-width="3" stroke-linejoin="miter"/>
<path d="M288.9,230.1V324.8H434.66" fill="none" stroke="#000" stroke-width="1.8"/>
<path d="M287.3,321.2H288.6" stroke="#000" stroke-width="0.5"/>
<text x="286.4" y="322.9" font-size="4.9" text-anchor="end" fill="#000" font-family="&quot;Liberation Sans&quot;, sans-serif" textLength="8.9" lengthAdjust="spacingAndGlyphs" stroke="#000" stroke-width="0.1">0.00</text>
<path d="M287.3,299.6H288.6" stroke="#000" stroke-width="0.5"/>
<text x="286.4" y="301.3" font-size="4.9" text-anchor="end" fill="#000" font-family="&quot;Liberation Sans&quot;, sans-serif" textLength="8.9" lengthAdjust="spacingAndGlyphs" stroke="#000" stroke-width="0.1">0.25</text>
<path d="M287.3,278H288.6" stroke="#000" stroke-width="0.5"/>
<text x="286.4" y="279.7" font-size="4.9" text-anchor="end" fill="#000" font-family="&quot;Liberation Sans&quot;, sans-serif" textLength="8.9" lengthAdjust="spacingAndGlyphs" stroke="#000" stroke-width="0.1">0.50</text>
<path d="M287.3,256.4H288.6" stroke="#000" stroke-width="0.5"/>
<text x="286.4" y="258.1" font-size="4.9" text-anchor="end" fill="#000" font-family="&quot;Liberation Sans&quot;, sans-serif" textLength="8.9" lengthAdjust="spacingAndGlyphs" stroke="#000" stroke-width="0.1">0.75</text>
<path d="M287.3,234.8H288.6" stroke="#000" stroke-width="0.5"/>
<text x="286.4" y="236.5" font-size="4.9" text-anchor="end" fill="#000" font-family="&quot;Liberation Sans&quot;, sans-serif" textLength="8.9" lengthAdjust="spacingAndGlyphs" stroke="#000" stroke-width="0.1">1.00</text>
<path d="M294.8,324.8V326.5" stroke="#000" stroke-width="0.7"/>
<text x="294.8" y="331.9" font-size="4.7" text-anchor="middle" fill="#000" font-family="&quot;Liberation Sans&quot;, sans-serif" stroke="#000" stroke-width="0.2">0</text>
<path d="M294.8,369.7V371.4" stroke="#000" stroke-width="0.7"/>
<text x="294.8" y="376" font-size="4.7" text-anchor="middle" fill="#000" font-family="&quot;Liberation Sans&quot;, sans-serif" stroke="#000" stroke-width="0.2">0</text>
<path d="M305.9,324.8V326.5" stroke="#000" stroke-width="0.7"/>
<text x="305.9" y="331.9" font-size="4.7" text-anchor="middle" fill="#000" font-family="&quot;Liberation Sans&quot;, sans-serif" stroke="#000" stroke-width="0.2">1</text>
<path d="M305.9,369.7V371.4" stroke="#000" stroke-width="0.7"/>
<text x="305.9" y="376" font-size="4.7" text-anchor="middle" fill="#000" font-family="&quot;Liberation Sans&quot;, sans-serif" stroke="#000" stroke-width="0.2">1</text>
<path d="M317,324.8V326.5" stroke="#000" stroke-width="0.7"/>
<text x="317" y="331.9" font-size="4.7" text-anchor="middle" fill="#000" font-family="&quot;Liberation Sans&quot;, sans-serif" stroke="#000" stroke-width="0.2">2</text>
<path d="M317,369.7V371.4" stroke="#000" stroke-width="0.7"/>
<text x="317" y="376" font-size="4.7" text-anchor="middle" fill="#000" font-family="&quot;Liberation Sans&quot;, sans-serif" stroke="#000" stroke-width="0.2">2</text>
<path d="M328.1,324.8V326.5" stroke="#000" stroke-width="0.7"/>
<text x="328.1" y="331.9" font-size="4.7" text-anchor="middle" fill="#000" font-family="&quot;Liberation Sans&quot;, sans-serif" stroke="#000" stroke-width="0.2">3</text>
<path d="M328.1,369.7V371.4" stroke="#000" stroke-width="0.7"/>
<text x="328.1" y="376" font-size="4.7" text-anchor="middle" fill="#000" font-family="&quot;Liberation Sans&quot;, sans-serif" stroke="#000" stroke-width="0.2">3</text>
<path d="M339.2,324.8V326.5" stroke="#000" stroke-width="0.7"/>
<text x="339.2" y="331.9" font-size="4.7" text-anchor="middle" fill="#000" font-family="&quot;Liberation Sans&quot;, sans-serif" stroke="#000" stroke-width="0.2">4</text>
<path d="M339.2,369.7V371.4" stroke="#000" stroke-width="0.7"/>
<text x="339.2" y="376" font-size="4.7" text-anchor="middle" fill="#000" font-family="&quot;Liberation Sans&quot;, sans-serif" stroke="#000" stroke-width="0.2">4</text>
<path d="M350.3,324.8V326.5" stroke="#000" stroke-width="0.7"/>
<text x="350.3" y="331.9" font-size="4.7" text-anchor="middle" fill="#000" font-family="&quot;Liberation Sans&quot;, sans-serif" stroke="#000" stroke-width="0.2">5</text>
<path d="M350.3,369.7V371.4" stroke="#000" stroke-width="0.7"/>
<text x="350.3" y="376" font-size="4.7" text-anchor="middle" fill="#000" font-family="&quot;Liberation Sans&quot;, sans-serif" stroke="#000" stroke-width="0.2">5</text>
<path d="M361.4,324.8V326.5" stroke="#000" stroke-width="0.7"/>
<text x="361.4" y="331.9" font-size="4.7" text-anchor="middle" fill="#000" font-family="&quot;Liberation Sans&quot;, sans-serif" stroke="#000" stroke-width="0.2">6</text>
<path d="M361.4,369.7V371.4" stroke="#000" stroke-width="0.7"/>
<text x="361.4" y="376" font-size="4.7" text-anchor="middle" fill="#000" font-family="&quot;Liberation Sans&quot;, sans-serif" stroke="#000" stroke-width="0.2">6</text>
<path d="M372.5,324.8V326.5" stroke="#000" stroke-width="0.7"/>
<text x="372.5" y="331.9" font-size="4.7" text-anchor="middle" fill="#000" font-family="&quot;Liberation Sans&quot;, sans-serif" stroke="#000" stroke-width="0.2">7</text>
<path d="M372.5,369.7V371.4" stroke="#000" stroke-width="0.7"/>
<text x="372.5" y="376" font-size="4.7" text-anchor="middle" fill="#000" font-family="&quot;Liberation Sans&quot;, sans-serif" stroke="#000" stroke-width="0.2">7</text>
<path d="M383.6,324.8V326.5" stroke="#000" stroke-width="0.7"/>
<text x="383.6" y="331.9" font-size="4.7" text-anchor="middle" fill="#000" font-family="&quot;Liberation Sans&quot;, sans-serif" stroke="#000" stroke-width="0.2">8</text>
<path d="M383.6,369.7V371.4" stroke="#000" stroke-width="0.7"/>
<text x="383.6" y="376" font-size="4.7" text-anchor="middle" fill="#000" font-family="&quot;Liberation Sans&quot;, sans-serif" stroke="#000" stroke-width="0.2">8</text>
<path d="M394.7,324.8V326.5" stroke="#000" stroke-width="0.7"/>
<text x="394.7" y="331.9" font-size="4.7" text-anchor="middle" fill="#000" font-family="&quot;Liberation Sans&quot;, sans-serif" stroke="#000" stroke-width="0.2">9</text>
<path d="M394.7,369.7V371.4" stroke="#000" stroke-width="0.7"/>
<text x="394.7" y="376" font-size="4.7" text-anchor="middle" fill="#000" font-family="&quot;Liberation Sans&quot;, sans-serif" stroke="#000" stroke-width="0.2">9</text>
<path d="M405.8,324.8V326.5" stroke="#000" stroke-width="0.7"/>
<text x="405.8" y="331.9" font-size="4.7" text-anchor="middle" fill="#000" font-family="&quot;Liberation Sans&quot;, sans-serif" stroke="#000" stroke-width="0.2">10</text>
<path d="M405.8,369.7V371.4" stroke="#000" stroke-width="0.7"/>
<text x="405.8" y="376" font-size="4.7" text-anchor="middle" fill="#000" font-family="&quot;Liberation Sans&quot;, sans-serif" stroke="#000" stroke-width="0.2">10</text>
<path d="M416.9,324.8V326.5" stroke="#000" stroke-width="0.7"/>
<text x="416.9" y="331.9" font-size="4.7" text-anchor="middle" fill="#000" font-family="&quot;Liberation Sans&quot;, sans-serif" stroke="#000" stroke-width="0.2">11</text>
<path d="M416.9,369.7V371.4" stroke="#000" stroke-width="0.7"/>
<text x="416.9" y="376" font-size="4.7" text-anchor="middle" fill="#000" font-family="&quot;Liberation Sans&quot;, sans-serif" stroke="#000" stroke-width="0.2">11</text>
<path d="M428,324.8V326.5" stroke="#000" stroke-width="0.7"/>
<text x="428" y="331.9" font-size="4.7" text-anchor="middle" fill="#000" font-family="&quot;Liberation Sans&quot;, sans-serif" stroke="#000" stroke-width="0.2">12</text>
<path d="M428,369.7V371.4" stroke="#000" stroke-width="0.7"/>
<text x="428" y="376" font-size="4.7" text-anchor="middle" fill="#000" font-family="&quot;Liberation Sans&quot;, sans-serif" stroke="#000" stroke-width="0.2">12</text>
<text x="361.4" y="338.7" font-size="6.6" text-anchor="middle" fill="#000" font-family="&quot;Liberation Sans&quot;, sans-serif" textLength="28" lengthAdjust="spacingAndGlyphs" stroke="#000" stroke-width="0.1">Time(years)</text>
<text x="361.4" y="382.6" font-size="6.6" text-anchor="middle" fill="#000" font-family="&quot;Liberation Sans&quot;, sans-serif" textLength="28" lengthAdjust="spacingAndGlyphs" stroke="#000" stroke-width="0.1">Time(years)</text>
<text x="264.5" y="277.6" font-size="6.2" text-anchor="middle" fill="#000" font-family="&quot;Liberation Sans&quot;, sans-serif" textLength="52.5" lengthAdjust="spacingAndGlyphs" transform="rotate(-90 264.5 277.6)" stroke="#000" stroke-width="0.12">Survival probability</text>
<text x="298.1" y="305.8" font-size="7.2" text-anchor="start" fill="#000" font-family="&quot;Liberation Sans&quot;, sans-serif" textLength="23" lengthAdjust="spacingAndGlyphs" stroke="#000" stroke-width="0.16">p=0.029</text>
<text x="327.9" y="220.1" font-size="4.6" text-anchor="start" fill="#000" font-family="&quot;Liberation Sans&quot;, sans-serif" textLength="14.1" lengthAdjust="spacingAndGlyphs" stroke="#000" stroke-width="0.2">CMTM8</text>
<rect x="344.2" y="215.6" width="5.8" height="4.8" fill="#e41a1c"/>
<text x="352.1" y="220.1" font-size="4.6" text-anchor="start" fill="#000" font-family="&quot;Liberation Sans&quot;, sans-serif" textLength="16.4" lengthAdjust="spacingAndGlyphs" stroke="#000" stroke-width="0.2">High level</text>
<rect x="371.2" y="215.6" width="5.8" height="4.8" fill="#1f4e9e"/>
<text x="379" y="220.1" font-size="4.6" text-anchor="start" fill="#000" font-family="&quot;Liberation Sans&quot;, sans-serif" textLength="15.7" lengthAdjust="spacingAndGlyphs" stroke="#000" stroke-width="0.2">Low level</text>
<path d="M288.9,355V369.7H434.66" fill="none" stroke="#000" stroke-width="1.8"/>
<text x="286.4" y="360.5" font-size="5.4" text-anchor="end" fill="#d93a3a" font-family="&quot;Liberation Sans&quot;, sans-serif" textLength="19.9" lengthAdjust="spacingAndGlyphs" stroke="#d93a3a" stroke-width="0.2">High level</text>
<text x="286.4" y="367.2" font-size="5.4" text-anchor="end" fill="#2f58a3" font-family="&quot;Liberation Sans&quot;, sans-serif" textLength="18.6" lengthAdjust="spacingAndGlyphs" stroke="#2f58a3" stroke-width="0.2">Low level</text>
<text x="294.8" y="360.9" font-size="5.2" text-anchor="middle" fill="#d93a3a" font-family="&quot;Liberation Sans&quot;, sans-serif" stroke="#d93a3a" stroke-width="0.2">169</text>
<text x="294.8" y="367.5" font-size="5.2" text-anchor="middle" fill="#2f58a3" font-family="&quot;Liberation Sans&quot;, sans-serif" stroke="#2f58a3" stroke-width="0.2">169</text>
<text x="305.9" y="360.9" font-size="5.2" text-anchor="middle" fill="#d93a3a" font-family="&quot;Liberation Sans&quot;, sans-serif" stroke="#d93a3a" stroke-width="0.2">42</text>
<text x="305.9" y="367.5" font-size="5.2" text-anchor="middle" fill="#2f58a3" font-family="&quot;Liberation Sans&quot;, sans-serif" stroke="#2f58a3" stroke-width="0.2">63</text>
<text x="317" y="360.9" font-size="5.2" text-anchor="middle" fill="#d93a3a" font-family="&quot;Liberation Sans&quot;, sans-serif" stroke="#d93a3a" stroke-width="0.2">29</text>
<text x="317" y="367.5" font-size="5.2" text-anchor="middle" fill="#2f58a3" font-family="&quot;Liberation Sans&quot;, sans-serif" stroke="#2f58a3" stroke-width="0.2">27</text>
<text x="328.1" y="360.9" font-size="5.2" text-anchor="middle" fill="#d93a3a" font-family="&quot;Liberation Sans&quot;, sans-serif" stroke="#d93a3a" stroke-width="0.2">21</text>
<text x="328.1" y="367.5" font-size="5.2" text-anchor="middle" fill="#2f58a3" font-family="&quot;Liberation Sans&quot;, sans-serif" stroke="#2f58a3" stroke-width="0.2">23</text>
<text x="339.2" y="360.9" font-size="5.2" text-anchor="middle" fill="#d93a3a" font-family="&quot;Liberation Sans&quot;, sans-serif" stroke="#d93a3a" stroke-width="0.2">15</text>
<text x="339.2" y="367.5" font-size="5.2" text-anchor="middle" fill="#2f58a3" font-family="&quot;Liberation Sans&quot;, sans-serif" stroke="#2f58a3" stroke-width="0.2">18</text>
<text x="350.3" y="360.9" font-size="5.2" text-anchor="middle" fill="#d93a3a" font-family="&quot;Liberation Sans&quot;, sans-serif" stroke="#d93a3a" stroke-width="0.2">12</text>
<text x="350.3" y="367.5" font-size="5.2" text-anchor="middle" fill="#2f58a3" font-family="&quot;Liberation Sans&quot;, sans-serif" stroke="#2f58a3" stroke-width="0.2">12</text>
<text x="361.4" y="360.9" font-size="5.2" text-anchor="middle" fill="#d93a3a" font-family="&quot;Liberation Sans&quot;, sans-serif" stroke="#d93a3a" stroke-width="0.2">6</text>
<text x="361.4" y="367.5" font-size="5.2" text-anchor="middle" fill="#2f58a3" font-family="&quot;Liberation Sans&quot;, sans-serif" stroke="#2f58a3" stroke-width="0.2">11</text>
<text x="372.5" y="360.9" font-size="5.2" text-anchor="middle" fill="#d93a3a" font-family="&quot;Liberation Sans&quot;, sans-serif" stroke="#d93a3a" stroke-width="0.2">6</text>
<text x="372.5" y="367.5" font-size="5.2" text-anchor="middle" fill="#2f58a3" font-family="&quot;Liberation Sans&quot;, sans-serif" stroke="#2f58a3" stroke-width="0.2">9</text>
<text x="383.6" y="360.9" font-size="5.2" text-anchor="middle" fill="#d93a3a" font-family="&quot;Liberation Sans&quot;, sans-serif" stroke="#d93a3a" stroke-width="0.2">4</text>
<text x="383.6" y="367.5" font-size="5.2" text-anchor="middle" fill="#2f58a3" font-family="&quot;Liberation Sans&quot;, sans-serif" stroke="#2f58a3" stroke-width="0.2">6</text>
<text x="394.7" y="360.9" font-size="5.2" text-anchor="middle" fill="#d93a3a" font-family="&quot;Liberation Sans&quot;, sans-serif" stroke="#d93a3a" stroke-width="0.2">4</text>
<text x="394.7" y="367.5" font-size="5.2" text-anchor="middle" fill="#2f58a3" font-family="&quot;Liberation Sans&quot;, sans-serif" stroke="#2f58a3" stroke-width="0.2">3</text>
<text x="405.8" y="360.9" font-size="5.2" text-anchor="middle" fill="#d93a3a" font-family="&quot;Liberation Sans&quot;, sans-serif" stroke="#d93a3a" stroke-width="0.2">2</text>
<text x="405.8" y="367.5" font-size="5.2" text-anchor="middle" fill="#2f58a3" font-family="&quot;Liberation Sans&quot;, sans-serif" stroke="#2f58a3" stroke-width="0.2">2</text>
<text x="416.9" y="360.9" font-size="5.2" text-anchor="middle" fill="#d93a3a" font-family="&quot;Liberation Sans&quot;, sans-serif" stroke="#d93a3a" stroke-width="0.2">1</text>
<text x="416.9" y="367.5" font-size="5.2" text-anchor="middle" fill="#2f58a3" font-family="&quot;Liberation Sans&quot;, sans-serif" stroke="#2f58a3" stroke-width="0.2">0</text>
<text x="428" y="360.9" font-size="5.2" text-anchor="middle" fill="#d93a3a" font-family="&quot;Liberation Sans&quot;, sans-serif" stroke="#d93a3a" stroke-width="0.2">0</text>
<text x="428" y="367.5" font-size="5.2" text-anchor="middle" fill="#2f58a3" font-family="&quot;Liberation Sans&quot;, sans-serif" stroke="#2f58a3" stroke-width="0.2">0</text>
<text x="264.6" y="362.2" font-size="7.0" text-anchor="middle" fill="#000" font-family="&quot;Liberation Sans&quot;, sans-serif" textLength="24" lengthAdjust="spacingAndGlyphs" transform="rotate(-90 264.6 362.2)" stroke="#000" stroke-width="0.04">CMTM8</text>
<polygon points="533.9,234.4 536.95,234.4 536.95,234.8 540,234.8 542,234.8 542,235.5 544,235.5 545.75,235.5 545.75,237.6 547.5,237.6 549.7,237.6 549.7,239.4 551.9,239.4 553.45,239.4 553.45,240.7 555,240.7 556.5,240.7 556.5,242 558,242 558.45,242 558.45,243.3 558.9,243.3 592.4,243.3 593.7,243.3 593.7,246.4 595,246.4 610.3,246.4 610.3,248.1 643,248.1 643,302.7 628.1,302.7 628.1,289 610.3,289 610.3,275.9 591.8,275.9 591.8,263.9 578,263.9 578,263 558.9,263 557.45,263 557.45,250.5 556,250.5 554,250.5 554,248 552,248 549.75,248 549.75,244 547.5,244 546.25,244 546.25,242 545,242 543.5,242 543.5,239.5 542,239.5 541,239.5 541,238 540,238 538.5,238 538.5,236.5 537,236.5 535.45,236.5 535.45,234.4 533.9,234.4" fill="#e41a1c" fill-opacity="0.3" stroke="none"/>
<polygon points="533.9,234.6 534.95,234.6 534.95,235.5 536,235.5 537,235.5 537,236.5 538,236.5 539.25,236.5 539.25,239.4 540.5,239.4 541.75,239.4 541.75,241.5 543,241.5 544.4,241.5 544.4,243.8 545.8,243.8 546.9,243.8 546.9,245 548,245 550,245 550,247.5 552,247.5 553.5,247.5 553.5,250 555,250 556.95,250 556.95,256 558.9,256 591.8,256 591.8,261.9 628.1,261.9 628.1,264.1 661.2,264.1 661.2,297.5 621,297.5 621,292.2 591.8,292.2 591.8,286.7 580.8,286.7 580.8,284 578.6,284 578.6,281.4 576.4,281.4 575.95,281.4 575.95,278.8 575.5,278.8 574.25,278.8 574.25,276 573,276 571.65,276 571.65,273.5 570.3,273.5 567.65,273.5 567.65,271.8 565,271.8 562.8,271.8 562.8,269.2 560.6,269.2 559.3,269.2 559.3,266.5 558,266.5 556.7,266.5 556.7,263 555.4,263 554.1,263 554.1,258.6 552.8,258.6 551.4,258.6 551.4,256.8 550,256.8 548.75,256.8 548.75,255.1 547.5,255.1 546,255.1 546,253.4 544.5,253.4 542.95,253.4 542.95,251.6 541.4,251.6 540.7,251.6 540.7,249 540,249 539.25,249 539.25,245 538.5,245 537.75,245 537.75,241.5 537,241.5 536.25,241.5 536.25,238 535.5,238 534.7,238 534.7,234.6 533.9,234.6" fill="#1f4e9e" fill-opacity="0.3" stroke="none"/>
<polyline points="534.4,277.9 627.7,277.9" fill="none" stroke="#000" stroke-width="2" stroke-dasharray="7,6.9"/>
<polyline points="591,287 591,321.5" fill="none" stroke="#000" stroke-width="2" stroke-dasharray="7,6.9"/>
<polyline points="627.7,287 627.7,321.5" fill="none" stroke="#000" stroke-width="2" stroke-dasharray="7,6.9"/>
<polyline points="533.9,234.4 534.9,234.4 534.9,234.9 535.9,234.9 536.9,234.9 536.9,235.4 537.9,235.4 540.5,235.4 540.5,236.3 543.1,236.3 544,236.3 544,237.6 544.9,237.6 545.55,237.6 545.55,240.2 546.2,240.2 546.85,240.2 546.85,242.9 547.5,242.9 548.8,242.9 548.8,245.5 550.1,245.5 551.85,245.5 551.85,246.8 553.6,246.8 554.95,246.8 554.95,249 556.3,249 557.15,249 557.15,250.8 558,250.8 558.9,250.8 558.9,253.8 559.8,253.8 590.6,253.8 591.05,253.8 591.05,258.4 591.5,258.4 592.25,258.4 592.25,265 593,265 610.3,265 610.3,272.8 628.1,272.8 628.1,284.7 643,284.7" fill="none" stroke="#e41a1c" stroke-width="3" stroke-linejoin="miter"/>
<polyline points="533.9,234.6 534.45,234.6 534.45,236.5 535,236.5 535.55,236.5 535.55,238.5 536.1,238.5 536.65,238.5 536.65,240.2 537.2,240.2 537.75,240.2 537.75,242 538.3,242 538.95,242 538.95,245.5 539.6,245.5 540.5,245.5 540.5,249 541.4,249 542.7,249 542.7,250.3 544,250.3 545.75,250.3 545.75,251.6 547.5,251.6 548.35,251.6 548.35,253 549.2,253 550.1,253 550.1,254.3 551,254.3 551.9,254.3 551.9,255.6 552.8,255.6 553.65,255.6 553.65,256.9 554.5,256.9 555.8,256.9 555.8,259.1 557.1,259.1 558.45,259.1 558.45,260.8 559.8,260.8 561.55,260.8 561.55,261.7 563.3,261.7 565.05,261.7 565.05,262.2 566.8,262.2 567.65,262.2 567.65,264.8 568.5,264.8 569.4,264.8 569.4,267 570.3,267 572.05,267 572.05,267.8 573.8,267.8 575.1,267.8 575.1,270 576.4,270 577.7,270 577.7,271.8 579,271.8 579.9,271.8 579.9,274.6 580.8,274.6 590.1,274.6 590.35,274.6 590.35,279.3 590.6,279.3 620.3,279.3 620.3,284.9 660.6,284.9" fill="none" stroke="#1f4e9e" stroke-width="3" stroke-linejoin="miter"/>
<path d="M528.1,230.1V324.8H673.26" fill="none" stroke="#000" stroke-width="1.8"/>
<path d="M526.5,321.2H527.8" stroke="#000" stroke-width="0.5"/>
<text x="525.6" y="322.9" font-size="4.9" text-anchor="end" fill="#000" font-family="&quot;Liberation Sans&quot;, sans-serif" textLength="8.9" lengthAdjust="spacingAndGlyphs" stroke="#000" stroke-width="0.1">0.00</text>
<path d="M526.5,299.6H527.8" stroke="#000" stroke-width="0.5"/>
<text x="525.6" y="301.3" font-size="4.9" text-anchor="end" fill="#000" font-family="&quot;Liberation Sans&quot;, sans-serif" textLength="8.9" lengthAdjust="spacingAndGlyphs" stroke="#000" stroke-width="0.1">0.25</text>
<path d="M526.5,278H527.8" stroke="#000" stroke-width="0.5"/>
<text x="525.6" y="279.7" font-size="4.9" text-anchor="end" fill="#000" font-family="&quot;Liberation Sans&quot;, sans-serif" textLength="8.9" lengthAdjust="spacingAndGlyphs" stroke="#000" stroke-width="0.1">0.50</text>
<path d="M526.5,256.4H527.8" stroke="#000" stroke-width="0.5"/>
<text x="525.6" y="258.1" font-size="4.9" text-anchor="end" fill="#000" font-family="&quot;Liberation Sans&quot;, sans-serif" textLength="8.9" lengthAdjust="spacingAndGlyphs" stroke="#000" stroke-width="0.1">0.75</text>
<path d="M526.5,234.8H527.8" stroke="#000" stroke-width="0.5"/>
<text x="525.6" y="236.5" font-size="4.9" text-anchor="end" fill="#000" font-family="&quot;Liberation Sans&quot;, sans-serif" textLength="8.9" lengthAdjust="spacingAndGlyphs" stroke="#000" stroke-width="0.1">1.00</text>
<path d="M533.9,324.8V326.5" stroke="#000" stroke-width="0.7"/>
<text x="533.9" y="331.9" font-size="4.7" text-anchor="middle" fill="#000" font-family="&quot;Liberation Sans&quot;, sans-serif" stroke="#000" stroke-width="0.2">0</text>
<path d="M533.9,369.7V371.4" stroke="#000" stroke-width="0.7"/>
<text x="533.9" y="376" font-size="4.7" text-anchor="middle" fill="#000" font-family="&quot;Liberation Sans&quot;, sans-serif" stroke="#000" stroke-width="0.2">0</text>
<path d="M544.96,324.8V326.5" stroke="#000" stroke-width="0.7"/>
<text x="544.96" y="331.9" font-size="4.7" text-anchor="middle" fill="#000" font-family="&quot;Liberation Sans&quot;, sans-serif" stroke="#000" stroke-width="0.2">1</text>
<path d="M544.96,369.7V371.4" stroke="#000" stroke-width="0.7"/>
<text x="544.96" y="376" font-size="4.7" text-anchor="middle" fill="#000" font-family="&quot;Liberation Sans&quot;, sans-serif" stroke="#000" stroke-width="0.2">1</text>
<path d="M556.02,324.8V326.5" stroke="#000" stroke-width="0.7"/>
<text x="556.02" y="331.9" font-size="4.7" text-anchor="middle" fill="#000" font-family="&quot;Liberation Sans&quot;, sans-serif" stroke="#000" stroke-width="0.2">2</text>
<path d="M556.02,369.7V371.4" stroke="#000" stroke-width="0.7"/>
<text x="556.02" y="376" font-size="4.7" text-anchor="middle" fill="#000" font-family="&quot;Liberation Sans&quot;, sans-serif" stroke="#000" stroke-width="0.2">2</text>
<path d="M567.08,324.8V326.5" stroke="#000" stroke-width="0.7"/>
<text x="567.08" y="331.9" font-size="4.7" text-anchor="middle" fill="#000" font-family="&quot;Liberation Sans&quot;, sans-serif" stroke="#000" stroke-width="0.2">3</text>
<path d="M567.08,369.7V371.4" stroke="#000" stroke-width="0.7"/>
<text x="567.08" y="376" font-size="4.7" text-anchor="middle" fill="#000" font-family="&quot;Liberation Sans&quot;, sans-serif" stroke="#000" stroke-width="0.2">3</text>
<path d="M578.14,324.8V326.5" stroke="#000" stroke-width="0.7"/>
<text x="578.14" y="331.9" font-size="4.7" text-anchor="middle" fill="#000" font-family="&quot;Liberation Sans&quot;, sans-serif" stroke="#000" stroke-width="0.2">4</text>
<path d="M578.14,369.7V371.4" stroke="#000" stroke-width="0.7"/>
<text x="578.14" y="376" font-size="4.7" text-anchor="middle" fill="#000" font-family="&quot;Liberation Sans&quot;, sans-serif" stroke="#000" stroke-width="0.2">4</text>
<path d="M589.2,324.8V326.5" stroke="#000" stroke-width="0.7"/>
<text x="589.2" y="331.9" font-size="4.7" text-anchor="middle" fill="#000" font-family="&quot;Liberation Sans&quot;, sans-serif" stroke="#000" stroke-width="0.2">5</text>
<path d="M589.2,369.7V371.4" stroke="#000" stroke-width="0.7"/>
<text x="589.2" y="376" font-size="4.7" text-anchor="middle" fill="#000" font-family="&quot;Liberation Sans&quot;, sans-serif" stroke="#000" stroke-width="0.2">5</text>
<path d="M600.26,324.8V326.5" stroke="#000" stroke-width="0.7"/>
<text x="600.26" y="331.9" font-size="4.7" text-anchor="middle" fill="#000" font-family="&quot;Liberation Sans&quot;, sans-serif" stroke="#000" stroke-width="0.2">6</text>
<path d="M600.26,369.7V371.4" stroke="#000" stroke-width="0.7"/>
<text x="600.26" y="376" font-size="4.7" text-anchor="middle" fill="#000" font-family="&quot;Liberation Sans&quot;, sans-serif" stroke="#000" stroke-width="0.2">6</text>
<path d="M611.32,324.8V326.5" stroke="#000" stroke-width="0.7"/>
<text x="611.32" y="331.9" font-size="4.7" text-anchor="middle" fill="#000" font-family="&quot;Liberation Sans&quot;, sans-serif" stroke="#000" stroke-width="0.2">7</text>
<path d="M611.32,369.7V371.4" stroke="#000" stroke-width="0.7"/>
<text x="611.32" y="376" font-size="4.7" text-anchor="middle" fill="#000" font-family="&quot;Liberation Sans&quot;, sans-serif" stroke="#000" stroke-width="0.2">7</text>
<path d="M622.38,324.8V326.5" stroke="#000" stroke-width="0.7"/>
<text x="622.38" y="331.9" font-size="4.7" text-anchor="middle" fill="#000" font-family="&quot;Liberation Sans&quot;, sans-serif" stroke="#000" stroke-width="0.2">8</text>
<path d="M622.38,369.7V371.4" stroke="#000" stroke-width="0.7"/>
<text x="622.38" y="376" font-size="4.7" text-anchor="middle" fill="#000" font-family="&quot;Liberation Sans&quot;, sans-serif" stroke="#000" stroke-width="0.2">8</text>
<path d="M633.44,324.8V326.5" stroke="#000" stroke-width="0.7"/>
<text x="633.44" y="331.9" font-size="4.7" text-anchor="middle" fill="#000" font-family="&quot;Liberation Sans&quot;, sans-serif" stroke="#000" stroke-width="0.2">9</text>
<path d="M633.44,369.7V371.4" stroke="#000" stroke-width="0.7"/>
<text x="633.44" y="376" font-size="4.7" text-anchor="middle" fill="#000" font-family="&quot;Liberation Sans&quot;, sans-serif" stroke="#000" stroke-width="0.2">9</text>
<path d="M644.5,324.8V326.5" stroke="#000" stroke-width="0.7"/>
<text x="644.5" y="331.9" font-size="4.7" text-anchor="middle" fill="#000" font-family="&quot;Liberation Sans&quot;, sans-serif" stroke="#000" stroke-width="0.2">10</text>
<path d="M644.5,369.7V371.4" stroke="#000" stroke-width="0.7"/>
<text x="644.5" y="376" font-size="4.7" text-anchor="middle" fill="#000" font-family="&quot;Liberation Sans&quot;, sans-serif" stroke="#000" stroke-width="0.2">10</text>
<path d="M655.56,324.8V326.5" stroke="#000" stroke-width="0.7"/>
<text x="655.56" y="331.9" font-size="4.7" text-anchor="middle" fill="#000" font-family="&quot;Liberation Sans&quot;, sans-serif" stroke="#000" stroke-width="0.2">11</text>
<path d="M655.56,369.7V371.4" stroke="#000" stroke-width="0.7"/>
<text x="655.56" y="376" font-size="4.7" text-anchor="middle" fill="#000" font-family="&quot;Liberation Sans&quot;, sans-serif" stroke="#000" stroke-width="0.2">11</text>
<path d="M666.62,324.8V326.5" stroke="#000" stroke-width="0.7"/>
<text x="666.62" y="331.9" font-size="4.7" text-anchor="middle" fill="#000" font-family="&quot;Liberation Sans&quot;, sans-serif" stroke="#000" stroke-width="0.2">12</text>
<path d="M666.62,369.7V371.4" stroke="#000" stroke-width="0.7"/>
<text x="666.62" y="376" font-size="4.7" text-anchor="middle" fill="#000" font-family="&quot;Liberation Sans&quot;, sans-serif" stroke="#000" stroke-width="0.2">12</text>
<text x="600.26" y="338.7" font-size="6.6" text-anchor="middle" fill="#000" font-family="&quot;Liberation Sans&quot;, sans-serif" textLength="28" lengthAdjust="spacingAndGlyphs" stroke="#000" stroke-width="0.1">Time(years)</text>
<text x="600.26" y="382.6" font-size="6.6" text-anchor="middle" fill="#000" font-family="&quot;Liberation Sans&quot;, sans-serif" textLength="28" lengthAdjust="spacingAndGlyphs" stroke="#000" stroke-width="0.1">Time(years)</text>
<text x="503.7" y="277.6" font-size="6.2" text-anchor="middle" fill="#000" font-family="&quot;Liberation Sans&quot;, sans-serif" textLength="52.5" lengthAdjust="spacingAndGlyphs" transform="rotate(-90 503.7 277.6)" stroke="#000" stroke-width="0.12">Survival probability</text>
<text x="537.3" y="305.8" font-size="7.2" text-anchor="start" fill="#000" font-family="&quot;Liberation Sans&quot;, sans-serif" textLength="23.3" lengthAdjust="spacingAndGlyphs" stroke="#000" stroke-width="0.16">p=0.030</text>
<text x="571.1" y="220.1" font-size="4.6" text-anchor="start" fill="#000" font-family="&quot;Liberation Sans&quot;, sans-serif" textLength="6.2" lengthAdjust="spacingAndGlyphs" stroke="#000" stroke-width="0.2">ILK</text>
<rect x="579.3" y="215.6" width="5.6" height="4.8" fill="#e41a1c"/>
<text x="587.1" y="220.1" font-size="4.6" text-anchor="start" fill="#000" font-family="&quot;Liberation Sans&quot;, sans-serif" textLength="16.7" lengthAdjust="spacingAndGlyphs" stroke="#000" stroke-width="0.2">High level</text>
<rect x="606.1" y="215.6" width="5.6" height="4.8" fill="#1f4e9e"/>
<text x="614" y="220.1" font-size="4.6" text-anchor="start" fill="#000" font-family="&quot;Liberation Sans&quot;, sans-serif" textLength="15.8" lengthAdjust="spacingAndGlyphs" stroke="#000" stroke-width="0.2">Low level</text>
<path d="M528.1,355V369.7H673.26" fill="none" stroke="#000" stroke-width="1.8"/>
<text x="525.6" y="360.5" font-size="5.4" text-anchor="end" fill="#d93a3a" font-family="&quot;Liberation Sans&quot;, sans-serif" textLength="19.9" lengthAdjust="spacingAndGlyphs" stroke="#d93a3a" stroke-width="0.2">High level</text>
<text x="525.6" y="367.2" font-size="5.4" text-anchor="end" fill="#2f58a3" font-family="&quot;Liberation Sans&quot;, sans-serif" textLength="18.6" lengthAdjust="spacingAndGlyphs" stroke="#2f58a3" stroke-width="0.2">Low level</text>
<text x="533.9" y="360.9" font-size="5.2" text-anchor="middle" fill="#d93a3a" font-family="&quot;Liberation Sans&quot;, sans-serif" stroke="#d93a3a" stroke-width="0.2">169</text>
<text x="533.9" y="367.5" font-size="5.2" text-anchor="middle" fill="#2f58a3" font-family="&quot;Liberation Sans&quot;, sans-serif" stroke="#2f58a3" stroke-width="0.2">169</text>
<text x="544.96" y="360.9" font-size="5.2" text-anchor="middle" fill="#d93a3a" font-family="&quot;Liberation Sans&quot;, sans-serif" stroke="#d93a3a" stroke-width="0.2">55</text>
<text x="544.96" y="367.5" font-size="5.2" text-anchor="middle" fill="#2f58a3" font-family="&quot;Liberation Sans&quot;, sans-serif" stroke="#2f58a3" stroke-width="0.2">50</text>
<text x="556.02" y="360.9" font-size="5.2" text-anchor="middle" fill="#d93a3a" font-family="&quot;Liberation Sans&quot;, sans-serif" stroke="#d93a3a" stroke-width="0.2">29</text>
<text x="556.02" y="367.5" font-size="5.2" text-anchor="middle" fill="#2f58a3" font-family="&quot;Liberation Sans&quot;, sans-serif" stroke="#2f58a3" stroke-width="0.2">27</text>
<text x="567.08" y="360.9" font-size="5.2" text-anchor="middle" fill="#d93a3a" font-family="&quot;Liberation Sans&quot;, sans-serif" stroke="#d93a3a" stroke-width="0.2">23</text>
<text x="567.08" y="367.5" font-size="5.2" text-anchor="middle" fill="#2f58a3" font-family="&quot;Liberation Sans&quot;, sans-serif" stroke="#2f58a3" stroke-width="0.2">21</text>
<text x="578.14" y="360.9" font-size="5.2" text-anchor="middle" fill="#d93a3a" font-family="&quot;Liberation Sans&quot;, sans-serif" stroke="#d93a3a" stroke-width="0.2">18</text>
<text x="578.14" y="367.5" font-size="5.2" text-anchor="middle" fill="#2f58a3" font-family="&quot;Liberation Sans&quot;, sans-serif" stroke="#2f58a3" stroke-width="0.2">15</text>
<text x="589.2" y="360.9" font-size="5.2" text-anchor="middle" fill="#d93a3a" font-family="&quot;Liberation Sans&quot;, sans-serif" stroke="#d93a3a" stroke-width="0.2">14</text>
<text x="589.2" y="367.5" font-size="5.2" text-anchor="middle" fill="#2f58a3" font-family="&quot;Liberation Sans&quot;, sans-serif" stroke="#2f58a3" stroke-width="0.2">10</text>
<text x="600.26" y="360.9" font-size="5.2" text-anchor="middle" fill="#d93a3a" font-family="&quot;Liberation Sans&quot;, sans-serif" stroke="#d93a3a" stroke-width="0.2">8</text>
<text x="600.26" y="367.5" font-size="5.2" text-anchor="middle" fill="#2f58a3" font-family="&quot;Liberation Sans&quot;, sans-serif" stroke="#2f58a3" stroke-width="0.2">9</text>
<text x="611.32" y="360.9" font-size="5.2" text-anchor="middle" fill="#d93a3a" font-family="&quot;Liberation Sans&quot;, sans-serif" stroke="#d93a3a" stroke-width="0.2">6</text>
<text x="611.32" y="367.5" font-size="5.2" text-anchor="middle" fill="#2f58a3" font-family="&quot;Liberation Sans&quot;, sans-serif" stroke="#2f58a3" stroke-width="0.2">9</text>
<text x="622.38" y="360.9" font-size="5.2" text-anchor="middle" fill="#d93a3a" font-family="&quot;Liberation Sans&quot;, sans-serif" stroke="#d93a3a" stroke-width="0.2">4</text>
<text x="622.38" y="367.5" font-size="5.2" text-anchor="middle" fill="#2f58a3" font-family="&quot;Liberation Sans&quot;, sans-serif" stroke="#2f58a3" stroke-width="0.2">6</text>
<text x="633.44" y="360.9" font-size="5.2" text-anchor="middle" fill="#d93a3a" font-family="&quot;Liberation Sans&quot;, sans-serif" stroke="#d93a3a" stroke-width="0.2">1</text>
<text x="633.44" y="367.5" font-size="5.2" text-anchor="middle" fill="#2f58a3" font-family="&quot;Liberation Sans&quot;, sans-serif" stroke="#2f58a3" stroke-width="0.2">6</text>
<text x="644.5" y="360.9" font-size="5.2" text-anchor="middle" fill="#d93a3a" font-family="&quot;Liberation Sans&quot;, sans-serif" stroke="#d93a3a" stroke-width="0.2">0</text>
<text x="644.5" y="367.5" font-size="5.2" text-anchor="middle" fill="#2f58a3" font-family="&quot;Liberation Sans&quot;, sans-serif" stroke="#2f58a3" stroke-width="0.2">4</text>
<text x="655.56" y="360.9" font-size="5.2" text-anchor="middle" fill="#d93a3a" font-family="&quot;Liberation Sans&quot;, sans-serif" stroke="#d93a3a" stroke-width="0.2">0</text>
<text x="655.56" y="367.5" font-size="5.2" text-anchor="middle" fill="#2f58a3" font-family="&quot;Liberation Sans&quot;, sans-serif" stroke="#2f58a3" stroke-width="0.2">1</text>
<text x="666.62" y="360.9" font-size="5.2" text-anchor="middle" fill="#d93a3a" font-family="&quot;Liberation Sans&quot;, sans-serif" stroke="#d93a3a" stroke-width="0.2">0</text>
<text x="666.62" y="367.5" font-size="5.2" text-anchor="middle" fill="#2f58a3" font-family="&quot;Liberation Sans&quot;, sans-serif" stroke="#2f58a3" stroke-width="0.2">0</text>
<text x="503.8" y="362.2" font-size="7.0" text-anchor="middle" fill="#000" font-family="&quot;Liberation Sans&quot;, sans-serif" textLength="10.5" lengthAdjust="spacingAndGlyphs" transform="rotate(-90 503.8 362.2)" stroke="#000" stroke-width="0.04">ILK</text>
<path d="M33.6,419.8V556.3H194.7" fill="none" stroke="#9a9a9a" stroke-width="0.6"/>
<path d="M32.6,550.3H33.6" stroke="#9a9a9a" stroke-width="0.5"/>
<text x="31.6" y="552.3" font-size="5.6" text-anchor="end" fill="#666" font-family="&quot;Liberation Sans&quot;, sans-serif" textLength="6.4" lengthAdjust="spacingAndGlyphs" stroke="#666" stroke-width="0.05">0.00</text>
<path d="M32.6,519.27H33.6" stroke="#9a9a9a" stroke-width="0.5"/>
<text x="31.6" y="521.27" font-size="5.6" text-anchor="end" fill="#666" font-family="&quot;Liberation Sans&quot;, sans-serif" textLength="6.4" lengthAdjust="spacingAndGlyphs" stroke="#666" stroke-width="0.05">0.25</text>
<path d="M32.6,488.25H33.6" stroke="#9a9a9a" stroke-width="0.5"/>
<text x="31.6" y="490.25" font-size="5.6" text-anchor="end" fill="#666" font-family="&quot;Liberation Sans&quot;, sans-serif" textLength="6.4" lengthAdjust="spacingAndGlyphs" stroke="#666" stroke-width="0.05">0.50</text>
<path d="M32.6,457.22H33.6" stroke="#9a9a9a" stroke-width="0.5"/>
<text x="31.6" y="459.22" font-size="5.6" text-anchor="end" fill="#666" font-family="&quot;Liberation Sans&quot;, sans-serif" textLength="6.4" lengthAdjust="spacingAndGlyphs" stroke="#666" stroke-width="0.05">0.75</text>
<path d="M32.6,426.2H33.6" stroke="#9a9a9a" stroke-width="0.5"/>
<text x="31.6" y="428.2" font-size="5.6" text-anchor="end" fill="#666" font-family="&quot;Liberation Sans&quot;, sans-serif" textLength="6.4" lengthAdjust="spacingAndGlyphs" stroke="#666" stroke-width="0.05">1.00</text>
<path d="M40.7,556.3v1" stroke="#9a9a9a" stroke-width="0.5"/>
<text x="40.7" y="564.4" font-size="5.4" text-anchor="middle" fill="#666" font-family="&quot;Liberation Sans&quot;, sans-serif" textLength="1.75" lengthAdjust="spacingAndGlyphs" stroke="#666" stroke-width="0.05">0</text>
<path d="M77.58,556.3v1" stroke="#9a9a9a" stroke-width="0.5"/>
<text x="77.58" y="564.4" font-size="5.4" text-anchor="middle" fill="#666" font-family="&quot;Liberation Sans&quot;, sans-serif" textLength="1.75" lengthAdjust="spacingAndGlyphs" stroke="#666" stroke-width="0.05">4</text>
<path d="M114.46,556.3v1" stroke="#9a9a9a" stroke-width="0.5"/>
<text x="114.46" y="564.4" font-size="5.4" text-anchor="middle" fill="#666" font-family="&quot;Liberation Sans&quot;, sans-serif" textLength="1.75" lengthAdjust="spacingAndGlyphs" stroke="#666" stroke-width="0.05">8</text>
<path d="M151.34,556.3v1" stroke="#9a9a9a" stroke-width="0.5"/>
<text x="151.34" y="564.4" font-size="5.4" text-anchor="middle" fill="#666" font-family="&quot;Liberation Sans&quot;, sans-serif" textLength="3.5" lengthAdjust="spacingAndGlyphs" stroke="#666" stroke-width="0.05">12</text>
<path d="M188.22,556.3v1" stroke="#9a9a9a" stroke-width="0.5"/>
<text x="188.22" y="564.4" font-size="5.4" text-anchor="middle" fill="#666" font-family="&quot;Liberation Sans&quot;, sans-serif" textLength="3.5" lengthAdjust="spacingAndGlyphs" stroke="#666" stroke-width="0.05">16</text>
<text x="114.6" y="571.9" font-size="6.4" text-anchor="middle" fill="#000" font-family="&quot;Liberation Sans&quot;, sans-serif" textLength="9.2" lengthAdjust="spacingAndGlyphs" stroke="#000" stroke-width="0.1">Time</text>
<text x="23.6" y="488.4" font-size="6.2" text-anchor="middle" fill="#222" font-family="&quot;Liberation Sans&quot;, sans-serif" textLength="56" lengthAdjust="spacingAndGlyphs" transform="rotate(-90 23.6 488.4)" stroke="#222" stroke-width="0.05">Survival probability</text>
<text x="43.6" y="528.7" font-size="5.8" text-anchor="start" fill="#111" font-family="&quot;Liberation Sans&quot;, sans-serif" textLength="18.6" lengthAdjust="spacingAndGlyphs" stroke="#111" stroke-width="0.08">p = 0.015</text>
<polyline points="40.7,426.2 43,426.2 43,428.5 46,428.5 46,431 50,431 50,434 53,434 53,437 56.1,437 56.1,442.3 60,442.3 60,448.8 63.5,448.8 63.5,450.5 65.3,450.5 65.3,452.3 67,452.3 67,457.5 68.8,457.5 68.8,462.8 70,462.8 70,464.6 73.1,464.6 73.1,468 77.1,468 77.1,474.2 83.6,474.2 83.6,474.6 88,474.6 88,479.4 93.3,479.4 93.3,481.2 95.9,481.2 95.9,485.1 101.2,485.1 101.2,487.3 109.9,487.3 109.9,487.7 111.9,487.7 111.9,493.2 121.8,493.2 121.8,496.9 180.9,496.9 180.9,514.3 195,514.3" fill="none" stroke="#f8766d" stroke-width="0.95"/>
<polyline points="40.7,426.2 42.35,426.2 42.35,428 44,428 45.5,428 45.5,430.5 47,430.5 48.5,430.5 48.5,433.6 50,433.6 51.5,433.6 51.5,436 53,436 54.5,436 54.5,438.5 56,438.5 57.9,438.5 57.9,442.3 59.8,442.3 61.4,442.3 61.4,446 63,446 65,446 65,450.5 67,450.5 68.5,450.5 68.5,452 70,452 71,452 71,454 72,454 73,454 73,456 74,456 75.75,456 75.75,458.8 77.5,458.8 78.75,458.8 78.75,460.5 80,460.5 81.4,460.5 81.4,461.9 82.8,461.9 84.4,461.9 84.4,463 86,463 87.9,463 87.9,464.1 89.8,464.1 91.4,464.1 91.4,465.5 93,465.5 95.35,465.5 95.35,467.1 97.7,467.1 99.35,467.1 99.35,469 101,469 102.5,469 102.5,470.5 104,470.5 105.65,470.5 105.65,472.4 107.3,472.4 109.9,472.4 111.45,472.4 111.45,474 113,474 115,474 115,475 117,475 118.5,475 118.5,475.9 120,475.9 122.15,475.9 122.15,478.3 124.3,478.3" fill="none" stroke="#3fc5c8" stroke-width="2.1" stroke-linejoin="round" stroke-opacity="0.9"/>
<polyline points="124.3,478.3 127,478.3 127,479.5 131.8,479.5 131.8,480 141.7,480 141.7,480.8 142,480.8 142,482.5 152,482.5 152.1,482.5 152.1,488.2 181.4,488.2" fill="none" stroke="#00bfc4" stroke-width="0.9" stroke-dasharray="1.6,0.9"/>
<path d="M121.8,496.9h2.6M123.1,495.6v2.6" stroke="#f8766d" stroke-width="0.5"/>
<path d="M124.3,496.9h2.6M125.6,495.6v2.6" stroke="#f8766d" stroke-width="0.5"/>
<path d="M131.7,496.9h2.6M133,495.6v2.6" stroke="#f8766d" stroke-width="0.5"/>
<path d="M137.9,496.9h2.6M139.2,495.6v2.6" stroke="#f8766d" stroke-width="0.5"/>
<path d="M140.4,496.9h2.6M141.7,495.6v2.6" stroke="#f8766d" stroke-width="0.5"/>
<path d="M146.6,496.9h2.6M147.9,495.6v2.6" stroke="#f8766d" stroke-width="0.5"/>
<path d="M160.2,496.9h2.6M161.5,495.6v2.6" stroke="#f8766d" stroke-width="0.5"/>
<path d="M168.9,496.9h2.6M170.2,495.6v2.6" stroke="#f8766d" stroke-width="0.5"/>
<path d="M186.3,514.3h2.6M187.6,513v2.6" stroke="#f8766d" stroke-width="0.5"/>
<path d="M192.5,514.3h2.6M193.8,513v2.6" stroke="#f8766d" stroke-width="0.5"/>
<path d="M44.7,431h2.6M46,429.7v2.6" stroke="#f8766d" stroke-width="0.5"/>
<path d="M51.7,437h2.6M53,435.7v2.6" stroke="#f8766d" stroke-width="0.5"/>
<path d="M62.2,450.5h2.6M63.5,449.2v2.6" stroke="#f8766d" stroke-width="0.5"/>
<path d="M68.7,464.6h2.6M70,463.3v2.6" stroke="#f8766d" stroke-width="0.5"/>
<path d="M78.7,474.4h2.6M80,473.1v2.6" stroke="#f8766d" stroke-width="0.5"/>
<path d="M84.7,477h2.6M86,475.7v2.6" stroke="#f8766d" stroke-width="0.5"/>
<path d="M92,481.2h2.6M93.3,479.9v2.6" stroke="#f8766d" stroke-width="0.5"/>
<path d="M97.7,486h2.6M99,484.7v2.6" stroke="#f8766d" stroke-width="0.5"/>
<path d="M151.6,488.2h2.6M152.9,486.9v2.6" stroke="#00bfc4" stroke-width="0.5"/>
<path d="M157.8,488.2h2.6M159.1,486.9v2.6" stroke="#00bfc4" stroke-width="0.5"/>
<path d="M165.2,488.2h2.6M166.5,486.9v2.6" stroke="#00bfc4" stroke-width="0.5"/>
<path d="M171.4,488.2h2.6M172.7,486.9v2.6" stroke="#00bfc4" stroke-width="0.5"/>
<path d="M177.6,488.2h2.6M178.9,486.9v2.6" stroke="#00bfc4" stroke-width="0.5"/>
<path d="M129.7,480.6h2.6M131,479.3v2.6" stroke="#00bfc4" stroke-width="0.5"/>
<path d="M132.7,480.6h2.6M134,479.3v2.6" stroke="#00bfc4" stroke-width="0.5"/>
<path d="M135.7,480.6h2.6M137,479.3v2.6" stroke="#00bfc4" stroke-width="0.5"/>
<path d="M138.7,480.6h2.6M140,479.3v2.6" stroke="#00bfc4" stroke-width="0.5"/>
<path d="M141.7,480.6h2.6M143,479.3v2.6" stroke="#00bfc4" stroke-width="0.5"/>
<path d="M144.7,480.6h2.6M146,479.3v2.6" stroke="#00bfc4" stroke-width="0.5"/>
<path d="M147.7,480.6h2.6M149,479.3v2.6" stroke="#00bfc4" stroke-width="0.5"/>
<text x="83.8" y="408.8" font-size="3.9" text-anchor="start" fill="#333" font-family="&quot;Liberation Sans&quot;, sans-serif" textLength="7.9" lengthAdjust="spacingAndGlyphs" stroke="#333" stroke-width="0.2">Strata</text>
<path d="M94,407.5h3.2M95.6,405.9v3.2" stroke="#f8766d" stroke-width="0.6"/>
<path d="M121,407.5h3.2M122.6,405.9v3.2" stroke="#00bfc4" stroke-width="0.6"/>
<text x="100" y="408.8" font-size="3.9" text-anchor="start" fill="#333" font-family="&quot;Liberation Sans&quot;, sans-serif" textLength="18.9" lengthAdjust="spacingAndGlyphs" stroke="#333" stroke-width="0.2">CDKN2A=High</text>
<text x="126.5" y="408.8" font-size="3.9" text-anchor="start" fill="#333" font-family="&quot;Liberation Sans&quot;, sans-serif" textLength="18.4" lengthAdjust="spacingAndGlyphs" stroke="#333" stroke-width="0.2">CDKN2A=Low</text>
<path d="M273.6,419.8V556.5H435" fill="none" stroke="#9a9a9a" stroke-width="0.6"/>
<path d="M272.6,550.3H273.6" stroke="#9a9a9a" stroke-width="0.5"/>
<text x="271.6" y="552.3" font-size="5.6" text-anchor="end" fill="#666" font-family="&quot;Liberation Sans&quot;, sans-serif" textLength="6.4" lengthAdjust="spacingAndGlyphs" stroke="#666" stroke-width="0.05">0.00</text>
<path d="M272.6,519.27H273.6" stroke="#9a9a9a" stroke-width="0.5"/>
<text x="271.6" y="521.27" font-size="5.6" text-anchor="end" fill="#666" font-family="&quot;Liberation Sans&quot;, sans-serif" textLength="6.4" lengthAdjust="spacingAndGlyphs" stroke="#666" stroke-width="0.05">0.25</text>
<path d="M272.6,488.25H273.6" stroke="#9a9a9a" stroke-width="0.5"/>
<text x="271.6" y="490.25" font-size="5.6" text-anchor="end" fill="#666" font-family="&quot;Liberation Sans&quot;, sans-serif" textLength="6.4" lengthAdjust="spacingAndGlyphs" stroke="#666" stroke-width="0.05">0.50</text>
<path d="M272.6,457.22H273.6" stroke="#9a9a9a" stroke-width="0.5"/>
<text x="271.6" y="459.22" font-size="5.6" text-anchor="end" fill="#666" font-family="&quot;Liberation Sans&quot;, sans-serif" textLength="6.4" lengthAdjust="spacingAndGlyphs" stroke="#666" stroke-width="0.05">0.75</text>
<path d="M272.6,426.2H273.6" stroke="#9a9a9a" stroke-width="0.5"/>
<text x="271.6" y="428.2" font-size="5.6" text-anchor="end" fill="#666" font-family="&quot;Liberation Sans&quot;, sans-serif" textLength="6.4" lengthAdjust="spacingAndGlyphs" stroke="#666" stroke-width="0.05">1.00</text>
<path d="M280.7,556.5v1" stroke="#9a9a9a" stroke-width="0.5"/>
<text x="280.7" y="564.6" font-size="5.4" text-anchor="middle" fill="#666" font-family="&quot;Liberation Sans&quot;, sans-serif" textLength="1.75" lengthAdjust="spacingAndGlyphs" stroke="#666" stroke-width="0.05">0</text>
<path d="M317.44,556.5v1" stroke="#9a9a9a" stroke-width="0.5"/>
<text x="317.44" y="564.6" font-size="5.4" text-anchor="middle" fill="#666" font-family="&quot;Liberation Sans&quot;, sans-serif" textLength="1.75" lengthAdjust="spacingAndGlyphs" stroke="#666" stroke-width="0.05">2</text>
<path d="M354.18,556.5v1" stroke="#9a9a9a" stroke-width="0.5"/>
<text x="354.18" y="564.6" font-size="5.4" text-anchor="middle" fill="#666" font-family="&quot;Liberation Sans&quot;, sans-serif" textLength="1.75" lengthAdjust="spacingAndGlyphs" stroke="#666" stroke-width="0.05">4</text>
<path d="M390.92,556.5v1" stroke="#9a9a9a" stroke-width="0.5"/>
<text x="390.92" y="564.6" font-size="5.4" text-anchor="middle" fill="#666" font-family="&quot;Liberation Sans&quot;, sans-serif" textLength="1.75" lengthAdjust="spacingAndGlyphs" stroke="#666" stroke-width="0.05">6</text>
<path d="M427.66,556.5v1" stroke="#9a9a9a" stroke-width="0.5"/>
<text x="427.66" y="564.6" font-size="5.4" text-anchor="middle" fill="#666" font-family="&quot;Liberation Sans&quot;, sans-serif" textLength="1.75" lengthAdjust="spacingAndGlyphs" stroke="#666" stroke-width="0.05">8</text>
<text x="354.4" y="572.1" font-size="6.4" text-anchor="middle" fill="#000" font-family="&quot;Liberation Sans&quot;, sans-serif" textLength="9.2" lengthAdjust="spacingAndGlyphs" stroke="#000" stroke-width="0.1">Time</text>
<text x="263.6" y="488.4" font-size="6.2" text-anchor="middle" fill="#222" font-family="&quot;Liberation Sans&quot;, sans-serif" textLength="56" lengthAdjust="spacingAndGlyphs" transform="rotate(-90 263.6 488.4)" stroke="#222" stroke-width="0.05">Survival probability</text>
<text x="283.7" y="528.7" font-size="5.8" text-anchor="start" fill="#111" font-family="&quot;Liberation Sans&quot;, sans-serif" textLength="18.6" lengthAdjust="spacingAndGlyphs" stroke="#111" stroke-width="0.08">p = 0.036</text>
<polyline points="280.7,426.2 289.9,426.2 289.9,432.9 297.3,432.9 297.3,440.3 300.5,440.3 300.5,448 308.5,448 308.5,455.2 312.2,455.2 312.2,462.2 317.2,462.2 317.2,470.1 331.6,470.1 331.6,477.1 335,477.1 335,492.4 338.3,492.4 338.3,500.6 365.6,500.6 365.6,508.8 423.4,508.8" fill="none" stroke="#f8766d" stroke-width="0.95"/>
<polyline points="280.7,426.2 292.8,426.2 292.8,429.4 306,429.4 306,431.9 307.2,431.9 307.2,437.3 312.2,437.3 312.2,444.8 319.6,444.8 319.6,448.5 322.6,448.5 322.6,453.5 325.1,453.5 325.1,456.7 333.3,456.7 333.3,460.4 349.9,460.4 349.9,464.6 353.1,464.6 353.1,469.1 431.3,469.1" fill="none" stroke="#00bfc4" stroke-width="0.8" stroke-linejoin="round" stroke-dasharray="1.6,0.9"/>
<path d="M382.9,508.8h2.6M384.2,507.5v2.6" stroke="#f8766d" stroke-width="0.5"/>
<path d="M387.8,508.8h2.6M389.1,507.5v2.6" stroke="#f8766d" stroke-width="0.5"/>
<path d="M392.8,508.8h2.6M394.1,507.5v2.6" stroke="#f8766d" stroke-width="0.5"/>
<path d="M415.1,508.8h2.6M416.4,507.5v2.6" stroke="#f8766d" stroke-width="0.5"/>
<path d="M421.3,508.8h2.6M422.6,507.5v2.6" stroke="#f8766d" stroke-width="0.5"/>
<path d="M335.2,492.4h2.6M336.5,491.1v2.6" stroke="#f8766d" stroke-width="0.5"/>
<path d="M284.8,426.2h2.6M286.1,424.9v2.6" stroke="#00bfc4" stroke-width="0.5"/>
<path d="M301,429.4h2.6M302.3,428.1v2.6" stroke="#00bfc4" stroke-width="0.5"/>
<path d="M348.6,463h2.6M349.9,461.7v2.6" stroke="#00bfc4" stroke-width="0.5"/>
<path d="M355.1,469.1h2.6M356.4,467.8v2.6" stroke="#00bfc4" stroke-width="0.5"/>
<path d="M361.8,469.1h2.6M363.1,467.8v2.6" stroke="#00bfc4" stroke-width="0.5"/>
<path d="M363.5,469.1h2.6M364.8,467.8v2.6" stroke="#00bfc4" stroke-width="0.5"/>
<path d="M370.5,469.1h2.6M371.8,467.8v2.6" stroke="#00bfc4" stroke-width="0.5"/>
<path d="M373.4,469.1h2.6M374.7,467.8v2.6" stroke="#00bfc4" stroke-width="0.5"/>
<path d="M379.1,469.1h2.6M380.4,467.8v2.6" stroke="#00bfc4" stroke-width="0.5"/>
<path d="M380.9,469.1h2.6M382.2,467.8v2.6" stroke="#00bfc4" stroke-width="0.5"/>
<path d="M385.4,469.1h2.6M386.7,467.8v2.6" stroke="#00bfc4" stroke-width="0.5"/>
<path d="M392.3,469.1h2.6M393.6,467.8v2.6" stroke="#00bfc4" stroke-width="0.5"/>
<path d="M404.7,469.1h2.6M406,467.8v2.6" stroke="#00bfc4" stroke-width="0.5"/>
<path d="M411.4,469.1h2.6M412.7,467.8v2.6" stroke="#00bfc4" stroke-width="0.5"/>
<path d="M417.1,469.1h2.6M418.4,467.8v2.6" stroke="#00bfc4" stroke-width="0.5"/>
<path d="M430,469.1h2.6M431.3,467.8v2.6" stroke="#00bfc4" stroke-width="0.5"/>
<text x="325.3" y="409.2" font-size="3.9" text-anchor="start" fill="#333" font-family="&quot;Liberation Sans&quot;, sans-serif" textLength="7.8" lengthAdjust="spacingAndGlyphs" stroke="#333" stroke-width="0.2">Strata</text>
<path d="M335,407.9h3.2M336.6,406.3v3.2" stroke="#f8766d" stroke-width="0.6"/>
<path d="M361,407.9h3.2M362.6,406.3v3.2" stroke="#00bfc4" stroke-width="0.6"/>
<text x="340.9" y="409.2" font-size="3.9" text-anchor="start" fill="#333" font-family="&quot;Liberation Sans&quot;, sans-serif" textLength="18.2" lengthAdjust="spacingAndGlyphs" stroke="#333" stroke-width="0.2">CMTM8=High</text>
<text x="367" y="409.2" font-size="3.9" text-anchor="start" fill="#333" font-family="&quot;Liberation Sans&quot;, sans-serif" textLength="16.9" lengthAdjust="spacingAndGlyphs" stroke="#333" stroke-width="0.2">CMTM8=Low</text>
<path d="M519.4,418.2V558.4H682.4" fill="none" stroke="#9a9a9a" stroke-width="0.6"/>
<path d="M518.4,551.5H519.4" stroke="#9a9a9a" stroke-width="0.5"/>
<text x="517.4" y="553.5" font-size="5.6" text-anchor="end" fill="#666" font-family="&quot;Liberation Sans&quot;, sans-serif" textLength="6.4" lengthAdjust="spacingAndGlyphs" stroke="#666" stroke-width="0.05">0.00</text>
<path d="M518.4,519.85H519.4" stroke="#9a9a9a" stroke-width="0.5"/>
<text x="517.4" y="521.85" font-size="5.6" text-anchor="end" fill="#666" font-family="&quot;Liberation Sans&quot;, sans-serif" textLength="6.4" lengthAdjust="spacingAndGlyphs" stroke="#666" stroke-width="0.05">0.25</text>
<path d="M518.4,488.2H519.4" stroke="#9a9a9a" stroke-width="0.5"/>
<text x="517.4" y="490.2" font-size="5.6" text-anchor="end" fill="#666" font-family="&quot;Liberation Sans&quot;, sans-serif" textLength="6.4" lengthAdjust="spacingAndGlyphs" stroke="#666" stroke-width="0.05">0.50</text>
<path d="M518.4,456.55H519.4" stroke="#9a9a9a" stroke-width="0.5"/>
<text x="517.4" y="458.55" font-size="5.6" text-anchor="end" fill="#666" font-family="&quot;Liberation Sans&quot;, sans-serif" textLength="6.4" lengthAdjust="spacingAndGlyphs" stroke="#666" stroke-width="0.05">0.75</text>
<path d="M518.4,424.9H519.4" stroke="#9a9a9a" stroke-width="0.5"/>
<text x="517.4" y="426.9" font-size="5.6" text-anchor="end" fill="#666" font-family="&quot;Liberation Sans&quot;, sans-serif" textLength="6.4" lengthAdjust="spacingAndGlyphs" stroke="#666" stroke-width="0.05">1.00</text>
<path d="M526.7,558.4v1" stroke="#9a9a9a" stroke-width="0.5"/>
<text x="526.7" y="565.3" font-size="5.4" text-anchor="middle" fill="#666" font-family="&quot;Liberation Sans&quot;, sans-serif" textLength="1.75" lengthAdjust="spacingAndGlyphs" stroke="#666" stroke-width="0.05">0</text>
<path d="M563.8,558.4v1" stroke="#9a9a9a" stroke-width="0.5"/>
<text x="563.8" y="565.3" font-size="5.4" text-anchor="middle" fill="#666" font-family="&quot;Liberation Sans&quot;, sans-serif" textLength="4.3" lengthAdjust="spacingAndGlyphs" stroke="#666" stroke-width="0.05">2.5</text>
<path d="M600.9,558.4v1" stroke="#9a9a9a" stroke-width="0.5"/>
<text x="600.9" y="565.3" font-size="5.4" text-anchor="middle" fill="#666" font-family="&quot;Liberation Sans&quot;, sans-serif" textLength="1.75" lengthAdjust="spacingAndGlyphs" stroke="#666" stroke-width="0.05">5</text>
<path d="M638,558.4v1" stroke="#9a9a9a" stroke-width="0.5"/>
<text x="638" y="565.3" font-size="5.4" text-anchor="middle" fill="#666" font-family="&quot;Liberation Sans&quot;, sans-serif" textLength="4.3" lengthAdjust="spacingAndGlyphs" stroke="#666" stroke-width="0.05">7.5</text>
<path d="M675.1,558.4v1" stroke="#9a9a9a" stroke-width="0.5"/>
<text x="675.1" y="565.3" font-size="5.4" text-anchor="middle" fill="#666" font-family="&quot;Liberation Sans&quot;, sans-serif" textLength="3.5" lengthAdjust="spacingAndGlyphs" stroke="#666" stroke-width="0.05">10</text>
<text x="601.3" y="572.6" font-size="6.4" text-anchor="middle" fill="#000" font-family="&quot;Liberation Sans&quot;, sans-serif" textLength="9.2" lengthAdjust="spacingAndGlyphs" stroke="#000" stroke-width="0.1">Time</text>
<text x="509.4" y="488.4" font-size="6.2" text-anchor="middle" fill="#222" font-family="&quot;Liberation Sans&quot;, sans-serif" font-weight="bold" textLength="56" lengthAdjust="spacingAndGlyphs" transform="rotate(-90 509.4 488.4)" stroke="#222" stroke-width="0.05">Survival probability</text>
<text x="529.9" y="528.7" font-size="5.8" text-anchor="start" fill="#111" font-family="&quot;Liberation Sans&quot;, sans-serif" textLength="12.4" lengthAdjust="spacingAndGlyphs" stroke="#111" stroke-width="0.08">p = 0.3</text>
<polyline points="526.67,424.93 532.37,424.93 532.37,427.91 537.34,427.91 537.34,431.88 541.06,431.88 541.06,436.1 545.28,436.1 545.28,443.54 549.25,443.54 549.25,447.76 554.22,447.76 554.22,452.23 557.19,452.23 557.19,455.95 560.17,455.95 560.17,460.17 569.11,460.17 569.11,464.14 571.09,464.14 571.09,468.36 572.83,468.36 572.83,472.58 574.57,472.58 574.57,475.81 582.01,475.81 582.01,480.03 588.72,480.03 588.72,484.5 590.7,484.5 590.7,488.96 592.44,488.96 592.44,494.42 594.92,494.42 594.92,500.63 598.89,500.63 598.89,509.32 600.63,509.32 600.63,515.52 602.37,515.52 602.37,519.24 618,519.24 618,522.97 624.21,522.97 624.21,527.93 632.4,527.93 632.4,535.38 636.62,535.38 636.62,539.6 644.06,539.6 644.06,543.57 652.75,543.57 652.75,547.79 656.47,547.79 656.47,551.51" fill="none" stroke="#f8766d" stroke-width="0.95"/>
<polyline points="526.67,424.93 529.89,424.93 529.89,428.65 532.87,428.65 532.87,436.84 534.86,436.84 534.86,443.54 538.58,443.54 538.58,447.76 542.3,447.76 542.3,452.23 544.78,452.23 544.78,455.21 548.51,455.21 548.51,460.92 552.23,460.92 552.23,463.4 559.18,463.4 559.18,467.12 562.16,467.12 562.16,470.1 565.88,470.1 565.88,474.57 567.62,474.57 567.62,479.04 569.6,479.04 569.6,482.01 571.59,482.01 571.59,485.74 573.33,485.74 573.33,489.46 578.29,489.46 578.29,493.93 584.5,493.93 584.5,500.63 589.46,500.63 589.46,508.82 592.44,508.82 592.44,515.52 594.92,515.52 594.92,521.73 597.4,521.73 597.4,527.93 600.63,527.93 600.63,531.65 603.86,531.65 603.86,535.38 607.33,535.38 607.33,539.1 610.56,539.1 610.56,540.34 630.41,540.34 630.41,544.06 649.03,544.06 649.03,547.79 675.83,547.79 675.83,551.01" fill="none" stroke="#00bfc4" stroke-width="0.8" stroke-linejoin="round" stroke-dasharray="1.6,0.9"/>
<text x="578.8" y="408.1" font-size="3.9" text-anchor="start" fill="#333" font-family="&quot;Liberation Sans&quot;, sans-serif" textLength="7.4" lengthAdjust="spacingAndGlyphs" stroke="#333" stroke-width="0.2">Strata</text>
<path d="M588,406.8h4" stroke="#f8766d" stroke-width="0.6"/>
<path d="M606.4,406.8h4" stroke="#00bfc4" stroke-width="0.6" stroke-dasharray="1,0.6"/>
<text x="593.6" y="408.1" font-size="3.9" text-anchor="start" fill="#333" font-family="&quot;Liberation Sans&quot;, sans-serif" textLength="11.4" lengthAdjust="spacingAndGlyphs" stroke="#333" stroke-width="0.2">ILK=High</text>
<text x="611.9" y="408.1" font-size="3.9" text-anchor="start" fill="#333" font-family="&quot;Liberation Sans&quot;, sans-serif" textLength="10.6" lengthAdjust="spacingAndGlyphs" stroke="#333" stroke-width="0.2">ILK=Low</text>
<path d="M63.09,583.3V741.6M38.5,716.29H193.4" stroke="#f5f5f5" stroke-width="0.5"/>
<path d="M98.26,583.3V741.6M38.5,680.26H193.4" stroke="#f5f5f5" stroke-width="0.5"/>
<path d="M133.44,583.3V741.6M38.5,644.24H193.4" stroke="#f5f5f5" stroke-width="0.5"/>
<path d="M168.61,583.3V741.6M38.5,608.21H193.4" stroke="#f5f5f5" stroke-width="0.5"/>
<path d="M45.5,583.3V741.6M38.5,734.3H193.4" stroke="#ebebeb" stroke-width="0.6"/>
<path d="M80.67,583.3V741.6M38.5,698.27H193.4" stroke="#ebebeb" stroke-width="0.6"/>
<path d="M115.85,583.3V741.6M38.5,662.25H193.4" stroke="#ebebeb" stroke-width="0.6"/>
<path d="M151.02,583.3V741.6M38.5,626.23H193.4" stroke="#ebebeb" stroke-width="0.6"/>
<path d="M186.2,583.3V741.6M38.5,590.2H193.4" stroke="#ebebeb" stroke-width="0.6"/>
<path d="M38.5,583.3H193.4V741.6" fill="none" stroke="#c6c6c6" stroke-width="1"/>
<path d="M38.5,741.9H193.9" fill="none" stroke="#dcdcdc" stroke-width="1.6"/>
<path d="M38.5,582.8V742.1" fill="none" stroke="#8a8a8a" stroke-width="1"/>
<path d="M37.1,734.3H38.5M45.5,742.4V744.4" stroke="#444" stroke-width="0.6"/>
<text x="36.5" y="735.8" font-size="4.8" text-anchor="end" fill="#6a6a6a" font-family="&quot;Liberation Serif&quot;, serif" textLength="8.3" lengthAdjust="spacingAndGlyphs" stroke="#6a6a6a" stroke-width="0.03">0.00</text>
<text x="45.5" y="747.8" font-size="4.8" text-anchor="middle" fill="#6a6a6a" font-family="&quot;Liberation Serif&quot;, serif" textLength="8.5" lengthAdjust="spacingAndGlyphs" stroke="#6a6a6a" stroke-width="0.03">0.00</text>
<path d="M37.1,698.27H38.5M80.67,742.4V744.4" stroke="#444" stroke-width="0.6"/>
<text x="36.5" y="699.77" font-size="4.8" text-anchor="end" fill="#6a6a6a" font-family="&quot;Liberation Serif&quot;, serif" textLength="8.3" lengthAdjust="spacingAndGlyphs" stroke="#6a6a6a" stroke-width="0.03">0.25</text>
<text x="80.67" y="747.8" font-size="4.8" text-anchor="middle" fill="#6a6a6a" font-family="&quot;Liberation Serif&quot;, serif" textLength="8.5" lengthAdjust="spacingAndGlyphs" stroke="#6a6a6a" stroke-width="0.03">0.25</text>
<path d="M37.1,662.25H38.5M115.85,742.4V744.4" stroke="#444" stroke-width="0.6"/>
<text x="36.5" y="663.75" font-size="4.8" text-anchor="end" fill="#6a6a6a" font-family="&quot;Liberation Serif&quot;, serif" textLength="8.3" lengthAdjust="spacingAndGlyphs" stroke="#6a6a6a" stroke-width="0.03">0.50</text>
<text x="115.85" y="747.8" font-size="4.8" text-anchor="middle" fill="#6a6a6a" font-family="&quot;Liberation Serif&quot;, serif" textLength="8.5" lengthAdjust="spacingAndGlyphs" stroke="#6a6a6a" stroke-width="0.03">0.50</text>
<path d="M37.1,626.23H38.5M151.02,742.4V744.4" stroke="#444" stroke-width="0.6"/>
<text x="36.5" y="627.73" font-size="4.8" text-anchor="end" fill="#6a6a6a" font-family="&quot;Liberation Serif&quot;, serif" textLength="8.3" lengthAdjust="spacingAndGlyphs" stroke="#6a6a6a" stroke-width="0.03">0.75</text>
<text x="151.02" y="747.8" font-size="4.8" text-anchor="middle" fill="#6a6a6a" font-family="&quot;Liberation Serif&quot;, serif" textLength="8.5" lengthAdjust="spacingAndGlyphs" stroke="#6a6a6a" stroke-width="0.03">0.75</text>
<path d="M37.1,590.2H38.5M186.2,742.4V744.4" stroke="#444" stroke-width="0.6"/>
<text x="36.5" y="591.7" font-size="4.8" text-anchor="end" fill="#6a6a6a" font-family="&quot;Liberation Serif&quot;, serif" textLength="8.3" lengthAdjust="spacingAndGlyphs" stroke="#6a6a6a" stroke-width="0.03">1.00</text>
<text x="186.2" y="747.8" font-size="4.8" text-anchor="middle" fill="#6a6a6a" font-family="&quot;Liberation Serif&quot;, serif" textLength="8.5" lengthAdjust="spacingAndGlyphs" stroke="#6a6a6a" stroke-width="0.03">1.00</text>
<text x="115.95" y="754.1" font-size="6.3" text-anchor="middle" fill="#000" font-family="&quot;Liberation Serif&quot;, serif" textLength="48" lengthAdjust="spacingAndGlyphs" stroke="#000" stroke-width="0.2">False positive fraction</text>
<text x="26.1" y="662.3" font-size="6.3" text-anchor="middle" fill="#000" font-family="&quot;Liberation Serif&quot;, serif" textLength="47" lengthAdjust="spacingAndGlyphs" transform="rotate(-90 26.1 662.3)" stroke="#000" stroke-width="0.2">True positive fraction</text>
<path d="M45.6,734.4C45.71,734.18 46.06,733.48 46.25,733.1C46.44,732.73 46.63,732.36 46.74,732.14C46.85,731.93 46.77,732.08 46.91,731.8C47.05,731.53 47.41,730.82 47.57,730.5C47.73,730.18 47.78,730.09 47.89,729.87C48,729.65 48.07,729.52 48.23,729.19C48.4,728.86 48.76,728.15 48.9,727.88C49.03,727.61 48.94,727.81 49.05,727.59C49.16,727.37 49.37,726.95 49.57,726.56C49.76,726.18 50.1,725.51 50.21,725.29C50.32,725.07 50.12,725.47 50.24,725.24C50.36,725.01 50.72,724.3 50.91,723.92C51.1,723.55 51.28,723.21 51.39,722.99C51.5,722.77 51.44,722.88 51.59,722.59C51.74,722.31 52.11,721.59 52.27,721.27C52.43,720.95 52.46,720.9 52.57,720.68C52.69,720.45 52.75,720.32 52.95,719.93C53.15,719.55 53.43,719 53.77,718.35C54.1,717.7 54.57,716.8 54.97,716.02C55.37,715.25 55.78,714.47 56.18,713.69C56.59,712.91 57,712.13 57.41,711.35C57.82,710.56 58.23,709.78 58.64,709C59.06,708.22 59.47,707.43 59.89,706.65C60.31,705.86 60.73,705.08 61.15,704.3C61.57,703.51 62,702.73 62.42,701.94C62.85,701.16 63.27,700.37 63.7,699.59C64.13,698.8 64.57,698.01 65,697.23C65.43,696.44 65.87,695.66 66.31,694.88C66.75,694.09 67.19,693.31 67.63,692.52C68.07,691.74 68.52,690.96 68.97,690.17C69.41,689.39 69.86,688.61 70.31,687.83C70.77,687.05 71.22,686.27 71.68,685.49C72.14,684.71 72.59,683.93 73.06,683.15C73.52,682.37 73.98,681.6 74.45,680.82C74.92,680.05 75.39,679.27 75.86,678.5C76.33,677.73 76.8,676.96 77.28,676.19C77.76,675.42 78.24,674.65 78.72,673.89C79.2,673.12 79.69,672.36 80.18,671.59C80.66,670.83 81.16,670.07 81.65,669.31C82.14,668.55 82.64,667.8 83.14,667.04C83.64,666.29 84.14,665.54 84.64,664.79C85.15,664.04 85.66,663.29 86.17,662.55C86.68,661.8 87.19,661.06 87.71,660.32C88.23,659.58 88.75,658.85 89.27,658.11C89.79,657.38 90.32,656.65 90.85,655.92C91.38,655.19 91.91,654.47 92.44,653.74C92.98,653.02 93.52,652.3 94.06,651.59C94.6,650.87 95.15,650.16 95.7,649.45C96.25,648.74 96.8,648.04 97.35,647.34C97.91,646.64 98.47,645.94 99.03,645.24C99.59,644.55 100.15,643.86 100.72,643.17C101.29,642.49 101.86,641.8 102.44,641.13C103.02,640.45 103.6,639.77 104.18,639.1C104.76,638.43 105.35,637.77 105.94,637.11C106.53,636.45 107.12,635.79 107.72,635.14C108.32,634.48 108.92,633.84 109.52,633.19C110.13,632.55 110.74,631.91 111.35,631.28C111.96,630.65 112.58,630.02 113.2,629.39C113.82,628.77 114.44,628.15 115.07,627.54C115.69,626.93 116.33,626.32 116.96,625.72C117.6,625.11 118.24,624.52 118.88,623.92C119.52,623.33 120.17,622.75 120.82,622.17C121.47,621.59 122.13,621.01 122.79,620.44C123.45,619.87 124.11,619.31 124.78,618.75C125.45,618.19 126.12,617.64 126.8,617.1C127.47,616.55 128.16,616.01 128.84,615.48C129.52,614.95 130.21,614.42 130.91,613.9C131.6,613.38 132.3,612.87 133,612.36C133.7,611.86 134.41,611.36 135.12,610.86C135.83,610.37 136.55,609.88 137.27,609.4C137.99,608.92 138.71,608.45 139.44,607.99C140.17,607.52 140.9,607.06 141.64,606.61C142.38,606.16 143.12,605.71 143.87,605.28C144.62,604.84 145.37,604.41 146.13,603.99C146.88,603.57 147.65,603.15 148.41,602.75C149.18,602.34 149.95,601.94 150.73,601.55C151.5,601.16 152.28,600.78 153.07,600.4C153.85,600.03 154.64,599.66 155.44,599.3C156.23,598.94 157.04,598.59 157.84,598.25C158.65,597.91 159.46,597.58 160.27,597.25C161.09,596.92 161.91,596.61 162.73,596.3C163.56,595.99 164.39,595.69 165.22,595.4C166.06,595.11 166.9,594.83 167.75,594.56C168.59,594.28 169.45,594.02 170.3,593.76C171.16,593.51 172.02,593.26 172.89,593.03C173.75,592.79 174.63,592.56 175.5,592.35C176.38,592.13 177.27,591.92 178.15,591.72C179.04,591.52 179.94,591.34 180.84,591.16C181.74,590.98 182.64,590.81 183.55,590.65C184.46,590.49 185.84,590.27 186.3,590.2" fill="none" stroke="#b5473a" stroke-width="1.15" stroke-linejoin="round" stroke-linecap="round"/>
<path d="M45.6,734.4C45.66,734.15 45.86,733.35 45.97,732.92C46.08,732.49 46.19,732.08 46.26,731.83C46.32,731.59 46.27,731.76 46.36,731.45C46.44,731.14 46.65,730.34 46.75,729.98C46.85,729.61 46.88,729.52 46.95,729.27C47.02,729.03 47.06,728.88 47.16,728.51C47.27,728.14 47.5,727.34 47.58,727.04C47.67,726.75 47.61,726.96 47.68,726.72C47.75,726.48 47.89,726.01 48.02,725.58C48.14,725.16 48.37,724.42 48.45,724.18C48.52,723.94 48.38,724.38 48.46,724.12C48.54,723.87 48.79,723.08 48.92,722.67C49.05,722.26 49.17,721.89 49.25,721.65C49.33,721.41 49.29,721.53 49.39,721.22C49.49,720.9 49.75,720.12 49.87,719.77C49.99,719.42 50.01,719.37 50.09,719.13C50.17,718.89 50.22,718.74 50.36,718.32C50.51,717.9 50.71,717.32 50.96,716.62C51.21,715.92 51.56,714.95 51.87,714.12C52.18,713.29 52.5,712.46 52.82,711.63C53.14,710.81 53.47,709.98 53.8,709.16C54.13,708.33 54.47,707.51 54.81,706.7C55.16,705.88 55.51,705.06 55.86,704.25C56.22,703.43 56.58,702.62 56.94,701.81C57.31,701 57.68,700.19 58.06,699.39C58.44,698.58 58.82,697.78 59.21,696.98C59.6,696.18 59.99,695.38 60.39,694.58C60.79,693.79 61.19,692.99 61.6,692.2C62.01,691.41 62.43,690.62 62.85,689.84C63.27,689.05 63.7,688.27 64.13,687.49C64.56,686.71 65,685.93 65.44,685.16C65.88,684.38 66.33,683.61 66.78,682.84C67.23,682.07 67.69,681.31 68.15,680.54C68.61,679.78 69.08,679.02 69.55,678.26C70.02,677.5 70.5,676.75 70.98,675.99C71.46,675.24 71.95,674.49 72.44,673.75C72.94,673 73.43,672.26 73.93,671.52C74.44,670.78 74.94,670.04 75.45,669.31C75.97,668.58 76.48,667.85 77,667.12C77.52,666.39 78.05,665.67 78.58,664.95C79.11,664.23 79.65,663.51 80.19,662.8C80.72,662.09 81.27,661.37 81.82,660.67C82.37,659.96 82.92,659.26 83.48,658.56C84.04,657.86 84.6,657.16 85.17,656.47C85.73,655.78 86.3,655.09 86.88,654.4C87.46,653.72 88.04,653.04 88.62,652.36C89.2,651.68 89.79,651.01 90.39,650.34C90.98,649.67 91.58,649 92.18,648.34C92.78,647.67 93.39,647.02 94,646.36C94.61,645.71 95.22,645.05 95.84,644.41C96.46,643.76 97.08,643.12 97.71,642.48C98.33,641.84 98.96,641.2 99.6,640.57C100.23,639.94 100.87,639.32 101.52,638.69C102.16,638.07 102.8,637.45 103.46,636.84C104.11,636.23 104.76,635.62 105.42,635.01C106.08,634.41 106.74,633.8 107.4,633.21C108.07,632.61 108.74,632.02 109.41,631.43C110.09,630.84 110.76,630.26 111.45,629.68C112.13,629.1 112.81,628.53 113.5,627.96C114.19,627.39 114.88,626.82 115.57,626.26C116.27,625.7 116.97,625.15 117.67,624.6C118.37,624.05 119.08,623.5 119.79,622.96C120.5,622.42 121.21,621.88 121.93,621.35C122.64,620.82 123.36,620.29 124.09,619.77C124.81,619.24 125.54,618.73 126.27,618.21C127,617.7 127.73,617.2 128.46,616.69C129.2,616.19 129.94,615.69 130.68,615.2C131.43,614.71 132.17,614.22 132.92,613.74C133.67,613.26 134.42,612.78 135.18,612.31C135.93,611.84 136.69,611.38 137.45,610.92C138.21,610.45 138.98,610 139.74,609.55C140.51,609.1 141.28,608.66 142.05,608.22C142.83,607.78 143.6,607.34 144.38,606.92C145.16,606.49 145.94,606.06 146.73,605.65C147.51,605.23 148.3,604.82 149.09,604.41C149.88,604.01 150.67,603.61 151.47,603.21C152.26,602.82 153.06,602.43 153.86,602.05C154.66,601.67 155.47,601.29 156.27,600.92C157.08,600.55 157.89,600.18 158.7,599.82C159.51,599.46 160.32,599.11 161.14,598.76C161.95,598.41 162.77,598.07 163.59,597.74C164.41,597.4 165.24,597.07 166.06,596.75C166.89,596.43 167.72,596.11 168.55,595.8C169.38,595.49 170.21,595.18 171.04,594.88C171.88,594.58 172.72,594.29 173.55,594.01C174.39,593.72 175.24,593.44 176.08,593.17C176.92,592.89 177.77,592.63 178.62,592.37C179.46,592.11 180.31,591.85 181.17,591.61C182.02,591.36 182.87,591.12 183.73,590.88C184.58,590.65 185.87,590.31 186.3,590.2" fill="none" stroke="#2b72b3" stroke-width="1.15" stroke-linejoin="round" stroke-linecap="round"/>
<path d="M45.6,734.4C45.72,734.19 46.12,733.51 46.34,733.15C46.55,732.79 46.77,732.43 46.89,732.22C47.01,732.01 46.93,732.16 47.08,731.9C47.24,731.63 47.64,730.95 47.82,730.64C48.01,730.33 48.06,730.25 48.18,730.04C48.31,729.83 48.38,729.7 48.57,729.39C48.76,729.07 49.17,728.38 49.32,728.13C49.47,727.87 49.36,728.06 49.48,727.85C49.61,727.64 49.85,727.23 50.07,726.86C50.28,726.5 50.66,725.86 50.79,725.65C50.91,725.44 50.69,725.82 50.82,725.6C50.95,725.38 51.36,724.69 51.57,724.33C51.78,723.97 51.98,723.65 52.1,723.44C52.23,723.23 52.16,723.34 52.33,723.07C52.49,722.79 52.9,722.1 53.08,721.8C53.27,721.49 53.29,721.45 53.42,721.23C53.55,721.02 53.62,720.89 53.84,720.53C54.06,720.16 54.37,719.64 54.75,719.02C55.12,718.4 55.63,717.54 56.08,716.8C56.52,716.06 56.97,715.32 57.42,714.58C57.87,713.84 58.32,713.09 58.77,712.35C59.22,711.61 59.67,710.87 60.12,710.12C60.58,709.38 61.03,708.64 61.49,707.9C61.94,707.15 62.4,706.41 62.86,705.67C63.32,704.92 63.78,704.18 64.24,703.44C64.7,702.69 65.16,701.95 65.63,701.21C66.09,700.47 66.56,699.72 67.03,698.98C67.5,698.24 67.97,697.5 68.44,696.75C68.91,696.01 69.38,695.27 69.86,694.53C70.33,693.79 70.81,693.05 71.29,692.31C71.77,691.57 72.24,690.83 72.73,690.1C73.21,689.36 73.69,688.62 74.18,687.88C74.66,687.15 75.15,686.41 75.64,685.68C76.13,684.94 76.62,684.21 77.11,683.48C77.6,682.74 78.1,682.01 78.6,681.28C79.09,680.55 79.59,679.82 80.09,679.1C80.59,678.37 81.1,677.64 81.6,676.92C82.11,676.19 82.61,675.47 83.12,674.75C83.63,674.03 84.14,673.31 84.66,672.59C85.17,671.87 85.68,671.15 86.2,670.44C86.72,669.72 87.24,669.01 87.76,668.3C88.28,667.58 88.81,666.87 89.34,666.17C89.86,665.46 90.39,664.75 90.92,664.05C91.45,663.34 91.99,662.64 92.52,661.94C93.06,661.24 93.6,660.55 94.14,659.85C94.68,659.16 95.22,658.46 95.77,657.77C96.32,657.08 96.86,656.4 97.42,655.71C97.97,655.03 98.52,654.34 99.08,653.66C99.63,652.98 100.19,652.31 100.75,651.63C101.31,650.96 101.88,650.28 102.44,649.62C103.01,648.95 103.58,648.28 104.15,647.62C104.72,646.95 105.3,646.29 105.88,645.64C106.45,644.98 107.03,644.33 107.62,643.67C108.2,643.02 108.79,642.38 109.38,641.73C109.96,641.09 110.56,640.45 111.15,639.81C111.75,639.17 112.34,638.54 112.94,637.91C113.54,637.28 114.15,636.65 114.75,636.03C115.36,635.4 115.97,634.78 116.58,634.17C117.19,633.55 117.81,632.94 118.43,632.33C119.05,631.72 119.67,631.12 120.29,630.52C120.92,629.92 121.55,629.32 122.18,628.73C122.81,628.13 123.44,627.55 124.08,626.96C124.72,626.38 125.36,625.8 126.01,625.22C126.65,624.65 127.3,624.07 127.95,623.51C128.6,622.94 129.25,622.38 129.91,621.82C130.57,621.26 131.23,620.71 131.89,620.16C132.56,619.61 133.23,619.07 133.9,618.53C134.57,617.99 135.24,617.45 135.92,616.92C136.6,616.39 137.28,615.87 137.97,615.35C138.65,614.83 139.34,614.31 140.03,613.8C140.73,613.29 141.42,612.79 142.12,612.29C142.82,611.79 143.53,611.29 144.23,610.81C144.94,610.32 145.65,609.83 146.37,609.35C147.08,608.88 147.8,608.4 148.52,607.94C149.24,607.47 149.97,607.01 150.7,606.55C151.43,606.09 152.16,605.64 152.9,605.2C153.64,604.75 154.38,604.31 155.12,603.88C155.87,603.45 156.62,603.02 157.37,602.6C158.13,602.18 158.88,601.76 159.65,601.35C160.41,600.94 161.17,600.54 161.94,600.14C162.71,599.75 163.48,599.35 164.26,598.97C165.04,598.59 165.82,598.21 166.61,597.84C167.39,597.46 168.18,597.1 168.98,596.74C169.77,596.38 170.57,596.03 171.38,595.68C172.18,595.34 172.99,595 173.8,594.66C174.61,594.33 175.42,594.01 176.24,593.69C177.06,593.37 177.89,593.06 178.72,592.75C179.55,592.45 180.38,592.15 181.22,591.86C182.06,591.57 182.9,591.28 183.75,591.01C184.59,590.73 185.87,590.33 186.3,590.2" fill="none" stroke="#e3963e" stroke-width="1.15" stroke-linejoin="round" stroke-linecap="round"/>
<text x="109.6" y="710.6" font-size="6.6" text-anchor="start" fill="#111" font-family="&quot;Liberation Serif&quot;, serif" textLength="10.5" lengthAdjust="spacingAndGlyphs" stroke="#111" stroke-width="0.08">Type</text>
<path d="M110.1,718.1h7" stroke="#b5473a" stroke-width="1.8" stroke-opacity="0.8"/>
<text x="120.8" y="719.6" font-size="4.4" text-anchor="start" fill="#222" font-family="&quot;Liberation Serif&quot;, serif" textLength="70.3" lengthAdjust="spacingAndGlyphs" stroke="#222" stroke-width="0.08">1−Years,AUC=0.68,95%CI(0.57−0.79)</text>
<path d="M110.1,726.55h7" stroke="#2b72b3" stroke-width="1.8" stroke-opacity="0.8"/>
<text x="120.8" y="728.05" font-size="4.4" text-anchor="start" fill="#222" font-family="&quot;Liberation Serif&quot;, serif" textLength="68.3" lengthAdjust="spacingAndGlyphs" stroke="#222" stroke-width="0.08">3−Years,AUC=0.66,95%CI(0.53−0.8)</text>
<path d="M110.1,735h7" stroke="#e3963e" stroke-width="1.8" stroke-opacity="0.8"/>
<text x="120.8" y="736.5" font-size="4.4" text-anchor="start" fill="#222" font-family="&quot;Liberation Serif&quot;, serif" textLength="70.3" lengthAdjust="spacingAndGlyphs" stroke="#222" stroke-width="0.08">5−Years,AUC=0.58,95%CI(0.43−0.73)</text>
<text x="121.1" y="769.4" font-size="13" text-anchor="middle" fill="#231815" font-family="&quot;Liberation Sans&quot;, sans-serif" textLength="51.9" lengthAdjust="spacingAndGlyphs">CDKN2A</text>
<path d="M302.94,583.3V741.6M278.1,716.29H433.4" stroke="#f5f5f5" stroke-width="0.5"/>
<path d="M338.21,583.3V741.6M278.1,680.26H433.4" stroke="#f5f5f5" stroke-width="0.5"/>
<path d="M373.49,583.3V741.6M278.1,644.24H433.4" stroke="#f5f5f5" stroke-width="0.5"/>
<path d="M408.76,583.3V741.6M278.1,608.21H433.4" stroke="#f5f5f5" stroke-width="0.5"/>
<path d="M285.3,583.3V741.6M278.1,734.3H433.4" stroke="#ebebeb" stroke-width="0.6"/>
<path d="M320.57,583.3V741.6M278.1,698.27H433.4" stroke="#ebebeb" stroke-width="0.6"/>
<path d="M355.85,583.3V741.6M278.1,662.25H433.4" stroke="#ebebeb" stroke-width="0.6"/>
<path d="M391.12,583.3V741.6M278.1,626.23H433.4" stroke="#ebebeb" stroke-width="0.6"/>
<path d="M426.4,583.3V741.6M278.1,590.2H433.4" stroke="#ebebeb" stroke-width="0.6"/>
<path d="M278.1,583.3H433.4V741.6" fill="none" stroke="#c6c6c6" stroke-width="1"/>
<path d="M278.1,741.9H433.9" fill="none" stroke="#dcdcdc" stroke-width="1.6"/>
<path d="M278.1,582.8V742.1" fill="none" stroke="#8a8a8a" stroke-width="1"/>
<path d="M276.7,734.3H278.1M285.3,742.4V744.4" stroke="#444" stroke-width="0.6"/>
<text x="276.1" y="735.8" font-size="4.8" text-anchor="end" fill="#6a6a6a" font-family="&quot;Liberation Serif&quot;, serif" textLength="8.3" lengthAdjust="spacingAndGlyphs" stroke="#6a6a6a" stroke-width="0.03">0.00</text>
<text x="285.3" y="747.8" font-size="4.8" text-anchor="middle" fill="#6a6a6a" font-family="&quot;Liberation Serif&quot;, serif" textLength="8.5" lengthAdjust="spacingAndGlyphs" stroke="#6a6a6a" stroke-width="0.03">0.00</text>
<path d="M276.7,698.27H278.1M320.57,742.4V744.4" stroke="#444" stroke-width="0.6"/>
<text x="276.1" y="699.77" font-size="4.8" text-anchor="end" fill="#6a6a6a" font-family="&quot;Liberation Serif&quot;, serif" textLength="8.3" lengthAdjust="spacingAndGlyphs" stroke="#6a6a6a" stroke-width="0.03">0.25</text>
<text x="320.57" y="747.8" font-size="4.8" text-anchor="middle" fill="#6a6a6a" font-family="&quot;Liberation Serif&quot;, serif" textLength="8.5" lengthAdjust="spacingAndGlyphs" stroke="#6a6a6a" stroke-width="0.03">0.25</text>
<path d="M276.7,662.25H278.1M355.85,742.4V744.4" stroke="#444" stroke-width="0.6"/>
<text x="276.1" y="663.75" font-size="4.8" text-anchor="end" fill="#6a6a6a" font-family="&quot;Liberation Serif&quot;, serif" textLength="8.3" lengthAdjust="spacingAndGlyphs" stroke="#6a6a6a" stroke-width="0.03">0.50</text>
<text x="355.85" y="747.8" font-size="4.8" text-anchor="middle" fill="#6a6a6a" font-family="&quot;Liberation Serif&quot;, serif" textLength="8.5" lengthAdjust="spacingAndGlyphs" stroke="#6a6a6a" stroke-width="0.03">0.50</text>
<path d="M276.7,626.23H278.1M391.12,742.4V744.4" stroke="#444" stroke-width="0.6"/>
<text x="276.1" y="627.73" font-size="4.8" text-anchor="end" fill="#6a6a6a" font-family="&quot;Liberation Serif&quot;, serif" textLength="8.3" lengthAdjust="spacingAndGlyphs" stroke="#6a6a6a" stroke-width="0.03">0.75</text>
<text x="391.12" y="747.8" font-size="4.8" text-anchor="middle" fill="#6a6a6a" font-family="&quot;Liberation Serif&quot;, serif" textLength="8.5" lengthAdjust="spacingAndGlyphs" stroke="#6a6a6a" stroke-width="0.03">0.75</text>
<path d="M276.7,590.2H278.1M426.4,742.4V744.4" stroke="#444" stroke-width="0.6"/>
<text x="276.1" y="591.7" font-size="4.8" text-anchor="end" fill="#6a6a6a" font-family="&quot;Liberation Serif&quot;, serif" textLength="8.3" lengthAdjust="spacingAndGlyphs" stroke="#6a6a6a" stroke-width="0.03">1.00</text>
<text x="426.4" y="747.8" font-size="4.8" text-anchor="middle" fill="#6a6a6a" font-family="&quot;Liberation Serif&quot;, serif" textLength="8.5" lengthAdjust="spacingAndGlyphs" stroke="#6a6a6a" stroke-width="0.03">1.00</text>
<text x="355.75" y="754.1" font-size="6.3" text-anchor="middle" fill="#000" font-family="&quot;Liberation Serif&quot;, serif" textLength="48" lengthAdjust="spacingAndGlyphs" stroke="#000" stroke-width="0.2">False positive fraction</text>
<text x="265.7" y="662.3" font-size="6.3" text-anchor="middle" fill="#000" font-family="&quot;Liberation Serif&quot;, serif" textLength="47" lengthAdjust="spacingAndGlyphs" transform="rotate(-90 265.7 662.3)" stroke="#000" stroke-width="0.2">True positive fraction</text>
<path d="M285.3,734.4C285.37,734.16 285.59,733.36 285.72,732.94C285.84,732.51 285.96,732.1 286.04,731.86C286.11,731.62 286.06,731.79 286.15,731.48C286.24,731.18 286.49,730.39 286.6,730.04C286.71,729.68 286.75,729.59 286.83,729.35C286.9,729.11 286.95,728.97 287.07,728.61C287.19,728.25 287.46,727.47 287.56,727.18C287.66,726.89 287.58,727.1 287.67,726.87C287.75,726.63 287.91,726.18 288.06,725.77C288.21,725.36 288.48,724.65 288.56,724.42C288.65,724.19 288.49,724.61 288.59,724.37C288.68,724.13 288.97,723.37 289.12,722.97C289.28,722.58 289.42,722.23 289.51,722C289.6,721.77 289.56,721.89 289.68,721.59C289.8,721.29 290.11,720.54 290.25,720.21C290.39,719.88 290.41,719.84 290.51,719.61C290.61,719.38 290.66,719.24 290.84,718.85C291.01,718.46 291.25,717.9 291.55,717.25C291.86,716.59 292.27,715.68 292.65,714.91C293.02,714.14 293.4,713.37 293.79,712.6C294.17,711.84 294.57,711.08 294.97,710.32C295.37,709.57 295.78,708.82 296.2,708.07C296.61,707.32 297.04,706.58 297.47,705.84C297.9,705.1 298.34,704.37 298.78,703.64C299.23,702.91 299.68,702.18 300.13,701.46C300.59,700.74 301.06,700.02 301.53,699.31C302,698.59 302.47,697.89 302.96,697.18C303.44,696.47 303.93,695.77 304.43,695.07C304.92,694.38 305.42,693.68 305.93,692.99C306.44,692.3 306.95,691.61 307.47,690.93C307.98,690.25 308.51,689.57 309.04,688.89C309.57,688.22 310.1,687.54 310.64,686.88C311.18,686.21 311.73,685.54 312.28,684.88C312.83,684.22 313.38,683.56 313.94,682.9C314.5,682.25 315.07,681.6 315.63,680.95C316.2,680.3 316.78,679.65 317.36,679.01C317.93,678.37 318.52,677.73 319.1,677.1C319.69,676.46 320.28,675.83 320.88,675.2C321.47,674.57 322.07,673.94 322.67,673.32C323.28,672.69 323.88,672.07 324.49,671.45C325.1,670.83 325.72,670.22 326.33,669.6C326.95,668.99 327.57,668.38 328.2,667.77C328.82,667.17 329.45,666.56 330.08,665.96C330.71,665.36 331.34,664.76 331.98,664.16C332.61,663.56 333.25,662.97 333.89,662.38C334.54,661.78 335.18,661.2 335.83,660.61C336.47,660.02 337.12,659.43 337.77,658.85C338.43,658.27 339.08,657.69 339.74,657.11C340.39,656.53 341.05,655.95 341.71,655.38C342.37,654.81 343.03,654.23 343.69,653.66C344.36,653.09 345.02,652.52 345.69,651.96C346.35,651.39 347.02,650.83 347.69,650.26C348.36,649.7 349.03,649.14 349.7,648.58C350.38,648.02 351.05,647.46 351.72,646.91C352.4,646.35 353.07,645.8 353.75,645.25C354.43,644.69 355.11,644.14 355.79,643.59C356.47,643.04 357.15,642.5 357.83,641.95C358.51,641.4 359.19,640.86 359.88,640.32C360.56,639.77 361.25,639.23 361.93,638.69C362.62,638.15 363.3,637.61 363.99,637.07C364.68,636.53 365.37,636 366.06,635.46C366.75,634.93 367.44,634.39 368.13,633.86C368.82,633.33 369.51,632.79 370.2,632.26C370.89,631.73 371.59,631.2 372.28,630.67C372.97,630.15 373.67,629.62 374.36,629.09C375.06,628.56 375.75,628.04 376.45,627.51C377.14,626.99 377.84,626.46 378.54,625.94C379.23,625.42 379.93,624.9 380.63,624.37C381.32,623.85 382.02,623.33 382.72,622.81C383.42,622.29 384.11,621.77 384.81,621.25C385.51,620.73 386.21,620.22 386.91,619.7C387.61,619.18 388.31,618.66 389,618.15C389.7,617.63 390.4,617.11 391.1,616.6C391.8,616.08 392.5,615.56 393.2,615.05C393.9,614.53 394.59,614.02 395.29,613.5C395.99,612.99 396.69,612.48 397.39,611.96C398.09,611.45 398.78,610.93 399.48,610.42C400.18,609.91 400.88,609.39 401.57,608.88C402.27,608.37 402.97,607.85 403.66,607.34C404.36,606.82 405.06,606.31 405.75,605.8C406.45,605.28 407.14,604.77 407.84,604.26C408.53,603.74 409.22,603.23 409.92,602.71C410.61,602.2 411.3,601.69 411.99,601.17C412.69,600.66 413.38,600.14 414.07,599.63C414.76,599.11 415.45,598.6 416.14,598.08C416.83,597.56 417.51,597.05 418.2,596.53C418.89,596.01 419.57,595.5 420.26,594.98C420.94,594.46 421.63,593.94 422.31,593.42C423,592.9 423.68,592.38 424.36,591.86C425.04,591.34 426.06,590.56 426.4,590.3" fill="none" stroke="#b5473a" stroke-width="1.15" stroke-linejoin="round" stroke-linecap="round"/>
<path d="M285.3,734.4C285.34,734.13 285.45,733.26 285.52,732.79C285.59,732.33 285.66,731.88 285.71,731.61C285.75,731.35 285.72,731.53 285.78,731.2C285.83,730.87 285.99,730.02 286.06,729.64C286.13,729.25 286.16,729.15 286.21,728.89C286.26,728.63 286.29,728.48 286.38,728.09C286.47,727.7 286.66,726.87 286.73,726.56C286.8,726.25 286.75,726.48 286.81,726.23C286.88,725.98 287,725.49 287.11,725.06C287.23,724.62 287.44,723.88 287.51,723.63C287.57,723.38 287.45,723.83 287.52,723.57C287.6,723.32 287.83,722.52 287.96,722.1C288.09,721.69 288.21,721.33 288.29,721.09C288.37,720.84 288.33,720.97 288.43,720.66C288.54,720.35 288.81,719.57 288.93,719.23C289.05,718.89 289.07,718.84 289.16,718.6C289.25,718.37 289.3,718.22 289.46,717.82C289.62,717.41 289.84,716.84 290.12,716.17C290.4,715.5 290.8,714.58 291.16,713.8C291.52,713.02 291.89,712.24 292.28,711.48C292.66,710.71 293.06,709.96 293.47,709.21C293.89,708.46 294.31,707.72 294.75,706.99C295.18,706.26 295.63,705.53 296.09,704.82C296.55,704.1 297.02,703.39 297.5,702.69C297.98,701.99 298.48,701.3 298.98,700.61C299.48,699.93 300,699.25 300.52,698.58C301.05,697.91 301.58,697.25 302.13,696.59C302.67,695.93 303.23,695.28 303.79,694.64C304.36,693.99 304.93,693.36 305.51,692.73C306.1,692.09 306.69,691.47 307.29,690.85C307.89,690.23 308.5,689.62 309.11,689.01C309.73,688.41 310.35,687.81 310.98,687.21C311.62,686.62 312.26,686.03 312.9,685.44C313.55,684.86 314.2,684.28 314.86,683.71C315.52,683.13 316.19,682.56 316.87,682C317.54,681.44 318.22,680.88 318.91,680.32C319.59,679.77 320.28,679.22 320.98,678.67C321.68,678.13 322.38,677.59 323.09,677.05C323.8,676.51 324.51,675.98 325.23,675.45C325.94,674.92 326.67,674.4 327.39,673.87C328.12,673.35 328.85,672.83 329.58,672.32C330.31,671.8 331.05,671.29 331.79,670.78C332.53,670.28 333.28,669.77 334.02,669.27C334.77,668.77 335.52,668.27 336.27,667.77C337.02,667.27 337.78,666.78 338.53,666.29C339.29,665.79 340.05,665.3 340.81,664.82C341.57,664.33 342.33,663.84 343.09,663.36C343.85,662.87 344.61,662.39 345.38,661.91C346.14,661.43 346.91,660.95 347.67,660.48C348.43,660 349.2,659.52 349.96,659.05C350.73,658.57 351.49,658.1 352.26,657.62C353.02,657.15 353.78,656.68 354.54,656.21C355.3,655.73 356.06,655.26 356.82,654.79C357.58,654.32 358.34,653.85 359.1,653.38C359.85,652.91 360.61,652.44 361.36,651.97C362.11,651.5 362.86,651.03 363.61,650.56C364.36,650.09 365.11,649.62 365.86,649.15C366.61,648.68 367.35,648.2 368.1,647.73C368.84,647.26 369.59,646.79 370.33,646.31C371.07,645.84 371.81,645.36 372.55,644.89C373.29,644.41 374.03,643.94 374.77,643.46C375.51,642.98 376.24,642.5 376.98,642.02C377.72,641.54 378.45,641.06 379.18,640.57C379.92,640.09 380.65,639.6 381.38,639.12C382.11,638.63 382.84,638.14 383.57,637.65C384.3,637.16 385.03,636.67 385.76,636.17C386.48,635.67 387.21,635.18 387.94,634.68C388.66,634.18 389.39,633.68 390.11,633.17C390.83,632.66 391.56,632.16 392.27,631.65C392.99,631.13 393.71,630.62 394.42,630.1C395.14,629.58 395.85,629.06 396.56,628.53C397.26,628.01 397.97,627.47 398.67,626.94C399.36,626.4 400.06,625.86 400.75,625.32C401.44,624.77 402.12,624.22 402.8,623.67C403.48,623.11 404.15,622.55 404.82,621.98C405.49,621.41 406.15,620.84 406.8,620.26C407.45,619.68 408.1,619.09 408.73,618.5C409.37,617.9 410,617.3 410.62,616.69C411.23,616.08 411.84,615.47 412.44,614.84C413.03,614.21 413.62,613.58 414.19,612.94C414.76,612.29 415.33,611.64 415.87,610.98C416.42,610.32 416.95,609.65 417.47,608.96C417.99,608.28 418.49,607.59 418.98,606.89C419.46,606.18 419.94,605.47 420.39,604.74C420.84,604.02 421.28,603.28 421.7,602.53C422.11,601.78 422.51,601.02 422.89,600.25C423.27,599.47 423.63,598.69 423.97,597.89C424.3,597.08 424.62,596.27 424.91,595.44C425.21,594.61 425.48,593.77 425.73,592.92C425.98,592.06 426.29,590.74 426.4,590.3" fill="none" stroke="#2b72b3" stroke-width="1.15" stroke-linejoin="round" stroke-linecap="round"/>
<path d="M285.3,734.4C285.31,734.13 285.36,733.26 285.39,732.8C285.42,732.34 285.46,731.89 285.48,731.63C285.5,731.37 285.48,731.55 285.52,731.22C285.55,730.89 285.64,730.05 285.69,729.66C285.74,729.28 285.75,729.18 285.79,728.92C285.83,728.66 285.84,728.51 285.91,728.12C285.97,727.74 286.11,726.91 286.16,726.6C286.22,726.29 286.18,726.52 286.23,726.27C286.28,726.02 286.37,725.54 286.46,725.1C286.56,724.67 286.73,723.92 286.79,723.68C286.84,723.43 286.74,723.87 286.8,723.62C286.87,723.37 287.07,722.57 287.18,722.16C287.29,721.74 287.4,721.38 287.46,721.14C287.53,720.9 287.5,721.02 287.59,720.71C287.69,720.4 287.93,719.63 288.04,719.29C288.15,718.94 288.17,718.89 288.25,718.66C288.33,718.43 288.38,718.28 288.53,717.88C288.68,717.47 288.88,716.9 289.15,716.23C289.42,715.56 289.8,714.64 290.15,713.86C290.49,713.07 290.86,712.3 291.24,711.53C291.62,710.76 292.02,710 292.43,709.25C292.84,708.5 293.26,707.76 293.7,707.02C294.14,706.28 294.59,705.55 295.05,704.83C295.51,704.11 295.99,703.4 296.48,702.69C296.97,701.98 297.47,701.28 297.98,700.59C298.49,699.9 299.01,699.21 299.55,698.53C300.08,697.85 300.62,697.18 301.17,696.51C301.73,695.84 302.29,695.18 302.86,694.53C303.43,693.87 304.01,693.23 304.59,692.58C305.18,691.94 305.77,691.3 306.37,690.67C306.97,690.04 307.58,689.41 308.19,688.79C308.8,688.17 309.42,687.55 310.05,686.94C310.67,686.33 311.3,685.72 311.93,685.12C312.57,684.52 313.2,683.92 313.85,683.33C314.49,682.74 315.14,682.15 315.79,681.57C316.45,680.99 317.1,680.41 317.76,679.83C318.43,679.26 319.09,678.69 319.76,678.12C320.43,677.56 321.11,676.99 321.78,676.44C322.46,675.88 323.14,675.32 323.83,674.77C324.51,674.22 325.2,673.67 325.89,673.13C326.59,672.59 327.28,672.05 327.98,671.51C328.68,670.97 329.38,670.44 330.09,669.91C330.79,669.38 331.5,668.85 332.21,668.32C332.92,667.8 333.63,667.28 334.35,666.76C335.06,666.24 335.78,665.72 336.5,665.21C337.22,664.69 337.95,664.18 338.67,663.67C339.4,663.16 340.12,662.66 340.85,662.15C341.58,661.65 342.31,661.15 343.04,660.65C343.78,660.14 344.51,659.65 345.25,659.15C345.98,658.65 346.72,658.16 347.46,657.66C348.19,657.17 348.93,656.68 349.67,656.19C350.41,655.7 351.15,655.21 351.9,654.72C352.64,654.23 353.38,653.74 354.12,653.26C354.87,652.77 355.61,652.29 356.35,651.8C357.1,651.32 357.84,650.84 358.59,650.35C359.33,649.87 360.07,649.39 360.82,648.91C361.56,648.43 362.31,647.94 363.05,647.46C363.79,646.98 364.54,646.5 365.28,646.02C366.02,645.54 366.76,645.06 367.51,644.57C368.25,644.09 368.99,643.61 369.73,643.13C370.47,642.64 371.21,642.16 371.94,641.67C372.68,641.19 373.42,640.7 374.15,640.22C374.89,639.73 375.62,639.24 376.35,638.75C377.08,638.26 377.81,637.77 378.54,637.28C379.27,636.79 380,636.29 380.72,635.8C381.45,635.3 382.17,634.8 382.89,634.3C383.61,633.8 384.33,633.3 385.04,632.79C385.76,632.29 386.47,631.78 387.18,631.27C387.89,630.76 388.6,630.25 389.3,629.73C390.01,629.22 390.71,628.7 391.41,628.18C392.11,627.66 392.8,627.13 393.49,626.61C394.19,626.08 394.87,625.55 395.56,625.01C396.24,624.48 396.93,623.94 397.6,623.4C398.28,622.85 398.96,622.31 399.63,621.76C400.3,621.21 400.96,620.65 401.63,620.09C402.29,619.53 402.95,618.97 403.6,618.4C404.25,617.83 404.9,617.26 405.54,616.68C406.19,616.1 406.82,615.52 407.45,614.93C408.09,614.34 408.71,613.74 409.33,613.14C409.95,612.54 410.56,611.93 411.16,611.32C411.77,610.7 412.36,610.08 412.95,609.45C413.54,608.82 414.12,608.18 414.69,607.54C415.27,606.9 415.83,606.24 416.38,605.58C416.94,604.92 417.48,604.25 418.01,603.57C418.55,602.9 419.07,602.21 419.59,601.51C420.1,600.82 420.6,600.11 421.09,599.39C421.58,598.68 422.07,597.95 422.53,597.22C423,596.48 423.46,595.74 423.9,594.98C424.34,594.22 424.77,593.45 425.19,592.67C425.61,591.89 426.2,590.7 426.4,590.3" fill="none" stroke="#e3963e" stroke-width="1.15" stroke-linejoin="round" stroke-linecap="round"/>
<text x="349.3" y="710.6" font-size="6.6" text-anchor="start" fill="#111" font-family="&quot;Liberation Serif&quot;, serif" textLength="10.5" lengthAdjust="spacingAndGlyphs" stroke="#111" stroke-width="0.08">Type</text>
<path d="M349.8,718.1h7" stroke="#b5473a" stroke-width="1.8" stroke-opacity="0.8"/>
<text x="360.5" y="719.6" font-size="4.4" text-anchor="start" fill="#222" font-family="&quot;Liberation Serif&quot;, serif" textLength="70.3" lengthAdjust="spacingAndGlyphs" stroke="#222" stroke-width="0.08">1−Years,AUC=0.59,95%CI(0.46−0.73)</text>
<path d="M349.8,726.55h7" stroke="#2b72b3" stroke-width="1.8" stroke-opacity="0.8"/>
<text x="360.5" y="728.05" font-size="4.4" text-anchor="start" fill="#222" font-family="&quot;Liberation Serif&quot;, serif" textLength="70.3" lengthAdjust="spacingAndGlyphs" stroke="#222" stroke-width="0.08">3−Years,AUC=0.51,95%CI(0.36−0.66)</text>
<path d="M349.8,735h7" stroke="#e3963e" stroke-width="1.8" stroke-opacity="0.8"/>
<text x="360.5" y="736.5" font-size="4.4" text-anchor="start" fill="#222" font-family="&quot;Liberation Serif&quot;, serif" textLength="70.3" lengthAdjust="spacingAndGlyphs" stroke="#222" stroke-width="0.08">5−Years,AUC=0.57,95%CI(0.42−0.72)</text>
<text x="362.5" y="769.4" font-size="13" text-anchor="middle" fill="#231815" font-family="&quot;Liberation Sans&quot;, sans-serif" textLength="46.1" lengthAdjust="spacingAndGlyphs">CMTM8</text>
<path d="M541.94,583.3V741.6M517.3,716.29H672.4" stroke="#f5f5f5" stroke-width="0.5"/>
<path d="M577.21,583.3V741.6M517.3,680.26H672.4" stroke="#f5f5f5" stroke-width="0.5"/>
<path d="M612.49,583.3V741.6M517.3,644.24H672.4" stroke="#f5f5f5" stroke-width="0.5"/>
<path d="M647.76,583.3V741.6M517.3,608.21H672.4" stroke="#f5f5f5" stroke-width="0.5"/>
<path d="M524.3,583.3V741.6M517.3,734.3H672.4" stroke="#ebebeb" stroke-width="0.6"/>
<path d="M559.57,583.3V741.6M517.3,698.27H672.4" stroke="#ebebeb" stroke-width="0.6"/>
<path d="M594.85,583.3V741.6M517.3,662.25H672.4" stroke="#ebebeb" stroke-width="0.6"/>
<path d="M630.12,583.3V741.6M517.3,626.23H672.4" stroke="#ebebeb" stroke-width="0.6"/>
<path d="M665.4,583.3V741.6M517.3,590.2H672.4" stroke="#ebebeb" stroke-width="0.6"/>
<path d="M517.3,583.3H672.4V741.6" fill="none" stroke="#c6c6c6" stroke-width="1"/>
<path d="M517.3,741.9H672.9" fill="none" stroke="#dcdcdc" stroke-width="1.6"/>
<path d="M517.3,582.8V742.1" fill="none" stroke="#8a8a8a" stroke-width="1"/>
<path d="M515.9,734.3H517.3M524.3,742.4V744.4" stroke="#444" stroke-width="0.6"/>
<text x="515.3" y="735.8" font-size="4.8" text-anchor="end" fill="#6a6a6a" font-family="&quot;Liberation Serif&quot;, serif" textLength="8.3" lengthAdjust="spacingAndGlyphs" stroke="#6a6a6a" stroke-width="0.03">0.00</text>
<text x="524.3" y="747.8" font-size="4.8" text-anchor="middle" fill="#6a6a6a" font-family="&quot;Liberation Serif&quot;, serif" textLength="8.5" lengthAdjust="spacingAndGlyphs" stroke="#6a6a6a" stroke-width="0.03">0.00</text>
<path d="M515.9,698.27H517.3M559.57,742.4V744.4" stroke="#444" stroke-width="0.6"/>
<text x="515.3" y="699.77" font-size="4.8" text-anchor="end" fill="#6a6a6a" font-family="&quot;Liberation Serif&quot;, serif" textLength="8.3" lengthAdjust="spacingAndGlyphs" stroke="#6a6a6a" stroke-width="0.03">0.25</text>
<text x="559.57" y="747.8" font-size="4.8" text-anchor="middle" fill="#6a6a6a" font-family="&quot;Liberation Serif&quot;, serif" textLength="8.5" lengthAdjust="spacingAndGlyphs" stroke="#6a6a6a" stroke-width="0.03">0.25</text>
<path d="M515.9,662.25H517.3M594.85,742.4V744.4" stroke="#444" stroke-width="0.6"/>
<text x="515.3" y="663.75" font-size="4.8" text-anchor="end" fill="#6a6a6a" font-family="&quot;Liberation Serif&quot;, serif" textLength="8.3" lengthAdjust="spacingAndGlyphs" stroke="#6a6a6a" stroke-width="0.03">0.50</text>
<text x="594.85" y="747.8" font-size="4.8" text-anchor="middle" fill="#6a6a6a" font-family="&quot;Liberation Serif&quot;, serif" textLength="8.5" lengthAdjust="spacingAndGlyphs" stroke="#6a6a6a" stroke-width="0.03">0.50</text>
<path d="M515.9,626.23H517.3M630.12,742.4V744.4" stroke="#444" stroke-width="0.6"/>
<text x="515.3" y="627.73" font-size="4.8" text-anchor="end" fill="#6a6a6a" font-family="&quot;Liberation Serif&quot;, serif" textLength="8.3" lengthAdjust="spacingAndGlyphs" stroke="#6a6a6a" stroke-width="0.03">0.75</text>
<text x="630.12" y="747.8" font-size="4.8" text-anchor="middle" fill="#6a6a6a" font-family="&quot;Liberation Serif&quot;, serif" textLength="8.5" lengthAdjust="spacingAndGlyphs" stroke="#6a6a6a" stroke-width="0.03">0.75</text>
<path d="M515.9,590.2H517.3M665.4,742.4V744.4" stroke="#444" stroke-width="0.6"/>
<text x="515.3" y="591.7" font-size="4.8" text-anchor="end" fill="#6a6a6a" font-family="&quot;Liberation Serif&quot;, serif" textLength="8.3" lengthAdjust="spacingAndGlyphs" stroke="#6a6a6a" stroke-width="0.03">1.00</text>
<text x="665.4" y="747.8" font-size="4.8" text-anchor="middle" fill="#6a6a6a" font-family="&quot;Liberation Serif&quot;, serif" textLength="8.5" lengthAdjust="spacingAndGlyphs" stroke="#6a6a6a" stroke-width="0.03">1.00</text>
<text x="594.85" y="754.1" font-size="6.3" text-anchor="middle" fill="#000" font-family="&quot;Liberation Serif&quot;, serif" textLength="48" lengthAdjust="spacingAndGlyphs" stroke="#000" stroke-width="0.2">False positive fraction</text>
<text x="504.9" y="662.3" font-size="6.3" text-anchor="middle" fill="#000" font-family="&quot;Liberation Serif&quot;, serif" textLength="47" lengthAdjust="spacingAndGlyphs" transform="rotate(-90 504.9 662.3)" stroke="#000" stroke-width="0.2">True positive fraction</text>
<path d="M524.3,734.4C524.33,734.14 524.43,733.28 524.49,732.82C524.54,732.36 524.6,731.92 524.64,731.66C524.67,731.39 524.65,731.58 524.69,731.25C524.74,730.92 524.86,730.06 524.91,729.68C524.97,729.29 524.99,729.18 525.03,728.92C525.07,728.66 525.09,728.51 525.15,728.11C525.21,727.72 525.35,726.87 525.41,726.55C525.46,726.23 525.42,726.47 525.47,726.21C525.51,725.95 525.6,725.45 525.68,724.99C525.76,724.54 525.91,723.76 525.95,723.5C526,723.24 525.91,723.71 525.97,723.44C526.02,723.18 526.18,722.33 526.27,721.9C526.36,721.46 526.44,721.07 526.49,720.81C526.55,720.56 526.52,720.69 526.59,720.35C526.66,720.02 526.85,719.19 526.93,718.82C527.01,718.45 527.02,718.39 527.08,718.14C527.14,717.88 527.18,717.73 527.28,717.29C527.39,716.84 527.53,716.22 527.72,715.48C527.91,714.74 528.17,713.71 528.41,712.84C528.64,711.96 528.89,711.08 529.14,710.21C529.39,709.34 529.65,708.46 529.92,707.6C530.19,706.73 530.46,705.87 530.75,705C531.03,704.14 531.32,703.28 531.62,702.43C531.92,701.57 532.22,700.72 532.54,699.87C532.85,699.02 533.17,698.17 533.5,697.33C533.83,696.48 534.16,695.64 534.5,694.8C534.85,693.97 535.2,693.13 535.55,692.3C535.91,691.47 536.28,690.64 536.65,689.82C537.02,688.99 537.4,688.17 537.78,687.35C538.17,686.53 538.56,685.72 538.96,684.91C539.36,684.1 539.77,683.29 540.18,682.48C540.59,681.68 541.01,680.88 541.44,680.08C541.87,679.28 542.3,678.49 542.74,677.7C543.18,676.91 543.63,676.12 544.08,675.34C544.53,674.56 544.99,673.78 545.46,673C545.93,672.23 546.4,671.46 546.88,670.69C547.36,669.92 547.84,669.16 548.33,668.4C548.82,667.64 549.32,666.88 549.83,666.13C550.33,665.37 550.84,664.63 551.36,663.88C551.87,663.14 552.4,662.4 552.92,661.66C553.45,660.92 553.99,660.19 554.53,659.46C555.07,658.74 555.61,658.01 556.16,657.29C556.72,656.57 557.27,655.86 557.84,655.15C558.4,654.44 558.97,653.73 559.54,653.03C560.12,652.32 560.7,651.63 561.28,650.93C561.87,650.24 562.46,649.55 563.06,648.87C563.65,648.18 564.26,647.5 564.86,646.82C565.47,646.15 566.08,645.48 566.7,644.81C567.32,644.15 567.94,643.48 568.57,642.83C569.2,642.17 569.83,641.52 570.47,640.87C571.11,640.22 571.75,639.58 572.4,638.94C573.05,638.3 573.7,637.67 574.36,637.04C575.02,636.41 575.68,635.79 576.35,635.17C577.02,634.55 577.69,633.94 578.37,633.33C579.05,632.72 579.73,632.12 580.42,631.52C581.1,630.92 581.8,630.33 582.49,629.74C583.19,629.15 583.89,628.57 584.59,627.99C585.3,627.41 586.01,626.84 586.72,626.27C587.43,625.71 588.15,625.14 588.87,624.59C589.59,624.03 590.32,623.48 591.05,622.93C591.78,622.39 592.51,621.85 593.25,621.31C593.99,620.78 594.73,620.25 595.48,619.73C596.23,619.2 596.98,618.68 597.73,618.17C598.48,617.66 599.24,617.15 600,616.65C600.77,616.15 601.53,615.65 602.3,615.16C603.07,614.67 603.84,614.19 604.62,613.71C605.4,613.23 606.18,612.76 606.96,612.3C607.74,611.83 608.53,611.37 609.32,610.91C610.11,610.46 610.9,610.01 611.7,609.57C612.5,609.13 613.3,608.69 614.1,608.26C614.9,607.83 615.71,607.4 616.52,606.99C617.33,606.57 618.14,606.16 618.96,605.75C619.78,605.35 620.59,604.95 621.42,604.55C622.24,604.16 623.06,603.77 623.89,603.39C624.72,603.01 625.55,602.64 626.38,602.27C627.21,601.9 628.05,601.54 628.89,601.19C629.73,600.83 630.57,600.48 631.41,600.14C632.25,599.8 633.1,599.47 633.95,599.14C634.8,598.81 635.65,598.49 636.5,598.17C637.36,597.86 638.21,597.55 639.07,597.25C639.93,596.95 640.79,596.65 641.65,596.36C642.51,596.07 643.38,595.79 644.24,595.52C645.11,595.25 645.98,594.98 646.85,594.72C647.72,594.46 648.59,594.2 649.47,593.96C650.34,593.71 651.22,593.47 652.1,593.24C652.98,593.01 653.86,592.78 654.74,592.57C655.62,592.35 656.51,592.14 657.39,591.93C658.28,591.73 659.16,591.53 660.05,591.34C660.94,591.16 661.83,590.97 662.72,590.8C663.61,590.63 664.95,590.38 665.4,590.3" fill="none" stroke="#b5473a" stroke-width="1.15" stroke-linejoin="round" stroke-linecap="round"/>
<path d="M524.3,734.4C524.3,734.13 524.28,733.23 524.28,732.75C524.28,732.27 524.29,731.81 524.29,731.54C524.3,731.27 524.29,731.46 524.3,731.12C524.31,730.78 524.34,729.89 524.35,729.49C524.36,729.1 524.37,728.99 524.39,728.72C524.4,728.45 524.41,728.29 524.43,727.89C524.46,727.48 524.52,726.62 524.55,726.29C524.57,725.97 524.55,726.21 524.58,725.94C524.6,725.68 524.64,725.17 524.69,724.71C524.74,724.26 524.83,723.47 524.86,723.21C524.89,722.94 524.83,723.41 524.87,723.15C524.9,722.88 525.01,722.03 525.07,721.59C525.14,721.15 525.2,720.77 525.24,720.51C525.28,720.25 525.26,720.38 525.31,720.05C525.37,719.72 525.51,718.89 525.58,718.53C525.64,718.16 525.66,718.11 525.71,717.85C525.76,717.6 525.78,717.45 525.87,717.01C525.97,716.58 526.09,715.96 526.26,715.24C526.43,714.51 526.68,713.51 526.9,712.66C527.13,711.81 527.38,710.96 527.63,710.12C527.89,709.28 528.16,708.45 528.44,707.62C528.72,706.8 529.02,705.98 529.33,705.16C529.63,704.35 529.96,703.54 530.29,702.74C530.62,701.94 530.97,701.14 531.33,700.35C531.69,699.57 532.06,698.78 532.44,698.01C532.83,697.23 533.22,696.46 533.63,695.69C534.03,694.93 534.45,694.17 534.88,693.42C535.31,692.67 535.75,691.92 536.2,691.18C536.65,690.44 537.11,689.7 537.58,688.97C538.05,688.24 538.53,687.52 539.02,686.8C539.51,686.09 540.01,685.37 540.52,684.67C541.04,683.96 541.56,683.26 542.09,682.57C542.61,681.87 543.15,681.18 543.7,680.5C544.25,679.82 544.81,679.14 545.37,678.47C545.94,677.79 546.51,677.13 547.09,676.46C547.67,675.8 548.26,675.15 548.86,674.5C549.46,673.85 550.06,673.2 550.67,672.56C551.29,671.92 551.91,671.28 552.53,670.65C553.16,670.02 553.79,669.4 554.43,668.78C555.08,668.16 555.72,667.55 556.38,666.94C557.03,666.33 557.69,665.73 558.35,665.13C559.02,664.53 559.69,663.93 560.37,663.34C561.05,662.76 561.73,662.17 562.42,661.59C563.1,661.01 563.8,660.44 564.5,659.87C565.19,659.3 565.9,658.73 566.6,658.17C567.31,657.61 568.02,657.06 568.74,656.51C569.45,655.96 570.17,655.41 570.89,654.87C571.62,654.33 572.35,653.79 573.08,653.26C573.81,652.73 574.54,652.2 575.28,651.68C576.01,651.15 576.75,650.64 577.49,650.12C578.24,649.61 578.98,649.1 579.73,648.59C580.48,648.08 581.23,647.58 581.98,647.09C582.73,646.59 583.48,646.09 584.24,645.6C585,645.11 585.75,644.62 586.51,644.14C587.27,643.66 588.03,643.18 588.8,642.7C589.56,642.22 590.33,641.75 591.09,641.27C591.86,640.8 592.62,640.33 593.39,639.86C594.16,639.4 594.93,638.93 595.7,638.47C596.47,638.01 597.25,637.55 598.02,637.09C598.79,636.63 599.56,636.17 600.34,635.72C601.11,635.26 601.88,634.81 602.66,634.35C603.43,633.9 604.21,633.45 604.98,633C605.76,632.55 606.53,632.1 607.31,631.65C608.08,631.2 608.86,630.75 609.63,630.3C610.41,629.85 611.18,629.4 611.96,628.96C612.73,628.51 613.5,628.06 614.27,627.61C615.05,627.16 615.82,626.71 616.59,626.27C617.36,625.82 618.13,625.37 618.9,624.92C619.67,624.47 620.44,624.02 621.2,623.56C621.97,623.11 622.73,622.66 623.5,622.2C624.26,621.75 625.02,621.29 625.78,620.83C626.54,620.37 627.3,619.92 628.06,619.45C628.81,618.99 629.57,618.53 630.32,618.06C631.07,617.6 631.82,617.13 632.57,616.66C633.32,616.19 634.06,615.71 634.8,615.24C635.55,614.76 636.29,614.28 637.02,613.8C637.76,613.31 638.49,612.83 639.22,612.34C639.95,611.85 640.68,611.35 641.4,610.85C642.13,610.35 642.85,609.85 643.56,609.34C644.28,608.83 644.99,608.32 645.7,607.8C646.41,607.29 647.11,606.76 647.81,606.23C648.51,605.71 649.2,605.17 649.89,604.63C650.58,604.09 651.27,603.54 651.95,602.99C652.63,602.44 653.3,601.88 653.97,601.31C654.64,600.75 655.31,600.18 655.97,599.6C656.63,599.02 657.28,598.43 657.93,597.83C658.58,597.24 659.22,596.64 659.85,596.03C660.49,595.41 661.12,594.8 661.74,594.17C662.36,593.54 662.98,592.91 663.59,592.26C664.2,591.62 665.1,590.63 665.4,590.3" fill="none" stroke="#2b72b3" stroke-width="1.15" stroke-linejoin="round" stroke-linecap="round"/>
<path d="M524.3,734.4C524.38,734.16 524.65,733.39 524.8,732.98C524.94,732.57 525.09,732.17 525.17,731.93C525.26,731.69 525.2,731.86 525.31,731.56C525.42,731.27 525.7,730.5 525.83,730.15C525.96,729.8 525.99,729.71 526.08,729.48C526.17,729.24 526.22,729.1 526.36,728.75C526.5,728.39 526.79,727.63 526.9,727.35C527.01,727.06 526.93,727.27 527.03,727.04C527.12,726.8 527.29,726.36 527.46,725.95C527.62,725.55 527.91,724.85 528,724.61C528.09,724.38 527.92,724.8 528.02,724.56C528.12,724.32 528.43,723.57 528.6,723.18C528.76,722.79 528.91,722.44 529.01,722.21C529.1,721.98 529.05,722.1 529.18,721.8C529.31,721.5 529.63,720.76 529.78,720.43C529.92,720.1 529.95,720.05 530.05,719.82C530.15,719.59 530.21,719.45 530.39,719.06C530.56,718.66 530.81,718.11 531.12,717.44C531.42,716.78 531.85,715.87 532.22,715.09C532.59,714.3 532.97,713.52 533.35,712.74C533.73,711.97 534.12,711.19 534.52,710.42C534.91,709.65 535.31,708.88 535.71,708.11C536.11,707.34 536.52,706.58 536.93,705.82C537.34,705.05 537.76,704.29 538.18,703.54C538.61,702.78 539.03,702.03 539.46,701.28C539.9,700.53 540.33,699.78 540.77,699.03C541.22,698.29 541.66,697.54 542.11,696.8C542.56,696.06 543.02,695.33 543.48,694.59C543.94,693.86 544.4,693.12 544.87,692.4C545.34,691.67 545.81,690.94 546.29,690.22C546.77,689.49 547.25,688.77 547.73,688.05C548.22,687.33 548.71,686.62 549.2,685.91C549.7,685.19 550.2,684.48 550.7,683.78C551.21,683.07 551.71,682.36 552.22,681.66C552.74,680.96 553.25,680.26 553.77,679.56C554.29,678.87 554.82,678.17 555.34,677.48C555.87,676.79 556.4,676.1 556.94,675.42C557.47,674.73 558.01,674.05 558.56,673.37C559.1,672.69 559.65,672.01 560.2,671.34C560.75,670.66 561.31,669.99 561.87,669.32C562.42,668.66 562.99,667.99 563.55,667.33C564.12,666.66 564.69,666 565.26,665.34C565.84,664.69 566.41,664.03 566.99,663.38C567.57,662.73 568.16,662.08 568.75,661.43C569.33,660.79 569.93,660.14 570.52,659.5C571.11,658.86 571.71,658.22 572.31,657.59C572.91,656.95 573.52,656.32 574.13,655.69C574.74,655.06 575.35,654.43 575.96,653.81C576.58,653.18 577.19,652.56 577.81,651.94C578.43,651.32 579.06,650.71 579.69,650.1C580.31,649.48 580.94,648.87 581.58,648.27C582.21,647.66 582.84,647.05 583.48,646.45C584.12,645.85 584.76,645.25 585.41,644.65C586.05,644.06 586.7,643.47 587.35,642.88C588,642.28 588.66,641.7 589.31,641.11C589.97,640.53 590.63,639.95 591.29,639.37C591.95,638.79 592.61,638.21 593.28,637.64C593.95,637.06 594.62,636.49 595.29,635.93C595.96,635.36 596.63,634.79 597.31,634.23C597.99,633.67 598.67,633.11 599.35,632.55C600.03,632 600.71,631.44 601.4,630.89C602.09,630.34 602.78,629.8 603.47,629.25C604.16,628.71 604.85,628.16 605.55,627.62C606.24,627.09 606.94,626.55 607.64,626.02C608.34,625.48 609.04,624.95 609.75,624.42C610.45,623.9 611.16,623.37 611.86,622.85C612.57,622.33 613.28,621.81 613.99,621.29C614.71,620.78 615.42,620.26 616.14,619.75C616.85,619.24 617.57,618.73 618.29,618.23C619.01,617.72 619.73,617.22 620.45,616.72C621.18,616.23 621.9,615.73 622.63,615.24C623.36,614.74 624.08,614.25 624.81,613.77C625.54,613.28 626.27,612.79 627.01,612.31C627.74,611.83 628.48,611.35 629.21,610.88C629.95,610.4 630.68,609.93 631.42,609.46C632.16,608.99 632.9,608.52 633.64,608.06C634.39,607.59 635.13,607.13 635.87,606.68C636.62,606.22 637.36,605.76 638.11,605.31C638.86,604.86 639.6,604.41 640.35,603.96C641.1,603.52 641.85,603.07 642.6,602.63C643.36,602.19 644.11,601.75 644.86,601.32C645.61,600.88 646.37,600.45 647.12,600.02C647.88,599.59 648.64,599.17 649.39,598.75C650.15,598.32 650.91,597.9 651.67,597.49C652.43,597.07 653.19,596.65 653.95,596.24C654.71,595.83 655.47,595.42 656.23,595.02C656.99,594.61 657.75,594.21 658.52,593.81C659.28,593.41 660.04,593.02 660.81,592.62C661.57,592.23 662.34,591.84 663.1,591.45C663.87,591.07 665.02,590.49 665.4,590.3" fill="none" stroke="#e3963e" stroke-width="1.15" stroke-linejoin="round" stroke-linecap="round"/>
<text x="588.1" y="710.6" font-size="6.6" text-anchor="start" fill="#111" font-family="&quot;Liberation Serif&quot;, serif" textLength="10.5" lengthAdjust="spacingAndGlyphs" stroke="#111" stroke-width="0.08">Type</text>
<path d="M588.6,718.1h7" stroke="#b5473a" stroke-width="1.8" stroke-opacity="0.8"/>
<text x="599.3" y="719.6" font-size="4.4" text-anchor="start" fill="#222" font-family="&quot;Liberation Serif&quot;, serif" textLength="70.3" lengthAdjust="spacingAndGlyphs" stroke="#222" stroke-width="0.08">1−Years,AUC=0.71,95%CI(0.59−0.82)</text>
<path d="M588.6,726.55h7" stroke="#2b72b3" stroke-width="1.8" stroke-opacity="0.8"/>
<text x="599.3" y="728.05" font-size="4.4" text-anchor="start" fill="#222" font-family="&quot;Liberation Serif&quot;, serif" textLength="70.3" lengthAdjust="spacingAndGlyphs" stroke="#222" stroke-width="0.08">3−Years,AUC=0.58,95%CI(0.45−0.72)</text>
<path d="M588.6,735h7" stroke="#e3963e" stroke-width="1.8" stroke-opacity="0.8"/>
<text x="599.3" y="736.5" font-size="4.4" text-anchor="start" fill="#222" font-family="&quot;Liberation Serif&quot;, serif" textLength="68.3" lengthAdjust="spacingAndGlyphs" stroke="#222" stroke-width="0.08">5−Years,AUC=0.6,95%CI(0.45−0.74)</text>
<text x="596" y="769.4" font-size="13" text-anchor="middle" fill="#231815" font-family="&quot;Liberation Sans&quot;, sans-serif" textLength="17.5" lengthAdjust="spacingAndGlyphs">ILK</text>
</svg></body></html>
